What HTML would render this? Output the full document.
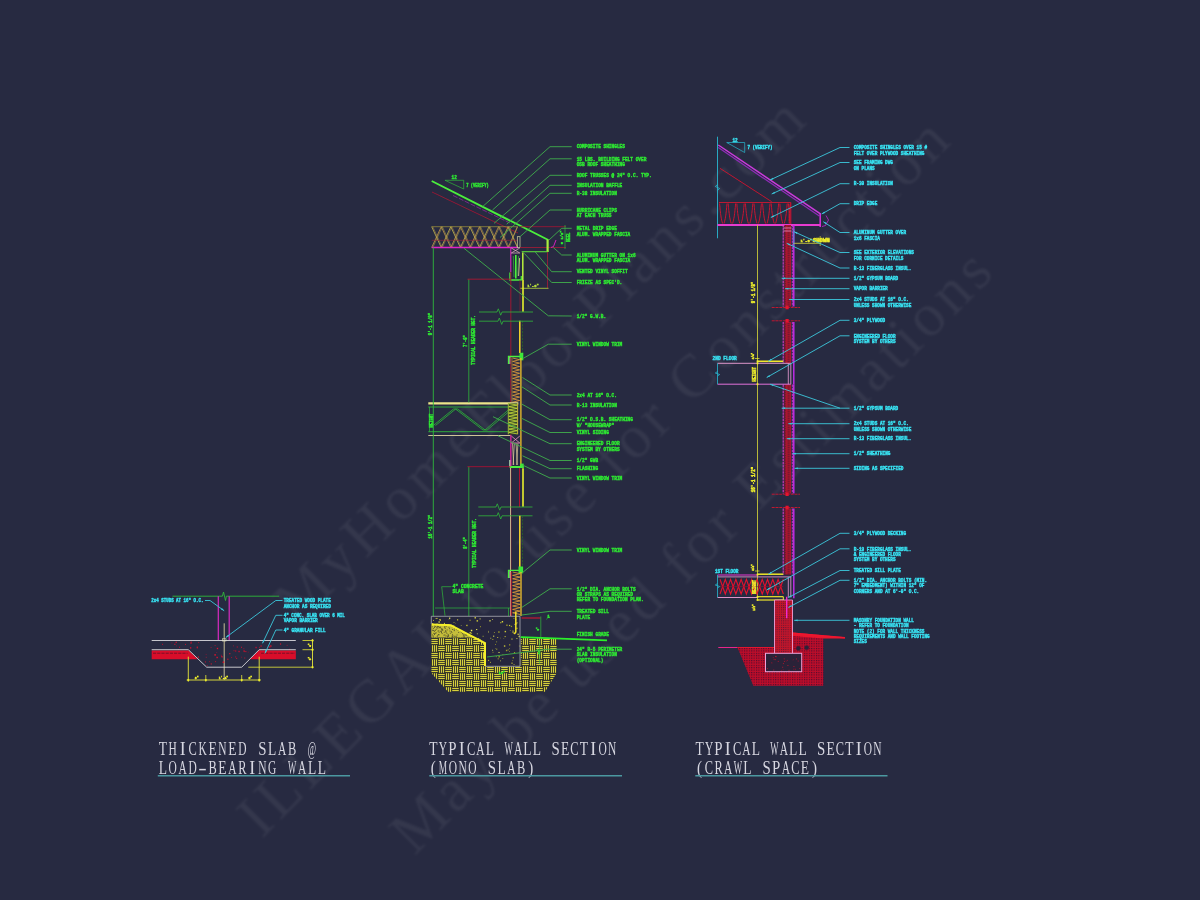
<!DOCTYPE html>
<html><head><meta charset="utf-8"><title>Wall Sections</title>
<style>
html,body{margin:0;padding:0;background:#272a41;}
body{width:1200px;height:900px;overflow:hidden;}
svg{display:block;}
svg text{font-family:"Liberation Mono",monospace;font-weight:bold;}
svg text.t{font-family:"Liberation Mono",monospace;font-weight:normal;}
svg text.ts{font-family:"Liberation Serif",serif;font-weight:normal;}
svg text.wm{font-family:"Liberation Serif",serif;font-weight:normal;}
</style></head><body>
<svg width="1200" height="900" viewBox="0 0 1200 900">
<defs>

<filter id="soft" x="-5%" y="-5%" width="110%" height="110%"><feGaussianBlur stdDeviation="0.45"/></filter>
<filter id="soft2" x="-5%" y="-5%" width="110%" height="110%"><feGaussianBlur stdDeviation="0.3"/></filter>
<filter id="wmsoft" x="-5%" y="-5%" width="110%" height="110%"><feGaussianBlur stdDeviation="1.1"/></filter>
<pattern id="earthY" width="14" height="14" patternUnits="userSpaceOnUse" x="431" y="638">
  <rect width="14" height="14" fill="#2c2d27"/>
  <g stroke="#d6d03c" stroke-width="1.15">
   <line x1="0.2" y1="1.5" x2="6.8" y2="1.5"/><line x1="0.2" y1="3.5" x2="6.8" y2="3.5"/><line x1="0.2" y1="5.5" x2="6.8" y2="5.5"/>
   <line x1="8.5" y1="0.2" x2="8.5" y2="6.8"/><line x1="10.5" y1="0.2" x2="10.5" y2="6.8"/><line x1="12.5" y1="0.2" x2="12.5" y2="6.8"/>
   <line x1="1.5" y1="7.2" x2="1.5" y2="13.8"/><line x1="3.5" y1="7.2" x2="3.5" y2="13.8"/><line x1="5.5" y1="7.2" x2="5.5" y2="13.8"/>
   <line x1="7.2" y1="8.5" x2="13.8" y2="8.5"/><line x1="7.2" y1="10.5" x2="13.8" y2="10.5"/><line x1="7.2" y1="12.5" x2="13.8" y2="12.5"/>
  </g>
</pattern>
<pattern id="earthR" width="2.4" height="2.4" patternUnits="userSpaceOnUse">
  <rect width="2.4" height="2.4" fill="#bd102b"/>
  <rect x="0" y="0" width="1.1" height="1.1" fill="#4a1030"/>
</pattern>
<pattern id="brickR" width="2.2" height="2.2" patternUnits="userSpaceOnUse">
  <rect width="2.2" height="2.2" fill="#c2122c"/>
  <rect x="0" y="0" width="1.0" height="1.0" fill="#5a1432"/>
</pattern>

</defs>
<rect width="1200" height="900" fill="#272a41"/>
<g filter="url(#wmsoft)">
<text class="wm" x="298" y="626" font-size="61" textLength="716.32" lengthAdjust="spacing" fill="#ffffff" fill-opacity="0.06" transform="rotate(-44.6 298 626)">MyHomeFloorPlans.com</text>
<text class="wm" x="262" y="839" font-size="61" textLength="979.78" lengthAdjust="spacing" fill="#ffffff" fill-opacity="0.06" transform="rotate(-45.23 262 839)">ILLEGAL to use for Construction</text>
<text class="wm" x="414.5" y="856.3" font-size="61" textLength="821.52" lengthAdjust="spacing" fill="#ffffff" fill-opacity="0.06" transform="rotate(-45.04 414.5 856.3)">May be used for Estimations</text>
</g>
<g filter="url(#soft)">
<line x1="432" y1="192" x2="518" y2="233" stroke="#a81632" stroke-width="0.8" />
<line x1="453" y1="195.5" x2="512" y2="224" stroke="#8a2a9a" stroke-width="0.8" stroke-dasharray="5 1.5"/>
<line x1="431.7" y1="181" x2="548.3" y2="240" stroke="#4cf03c" stroke-width="1.8" />
<polyline points="445,180.3 463.7,180.3 463.7,189 445,180.3" fill="none" stroke="#2fb83a" stroke-width="0.7" />
<text x="451.6" y="179.36" fill="#2eea32" stroke="#2eea32" stroke-width="0.42" font-size="5.332" textLength="5.2" lengthAdjust="spacingAndGlyphs">12</text>
<text x="466.3" y="186.83" fill="#2eea32" stroke="#2eea32" stroke-width="0.42" font-size="4.644" textLength="22.5" lengthAdjust="spacingAndGlyphs">7 (VERIFY)</text>
<polyline points="431.7,226.7 441.25,247.5 450.8,226.7 460.35,247.5 469.9,226.7 479.45,247.5 489,226.7 498.55,247.5 508.1,226.7 517.5,247.5" fill="none" stroke="#d0c450" stroke-width="0.75" />
<polyline points="431.7,247.5 441.25,226.7 450.8,247.5 460.35,226.7 469.9,247.5 479.45,226.7 489,247.5 498.55,226.7 508.1,247.5 517.5,226.7" fill="none" stroke="#d09c4c" stroke-width="0.75" />
<polyline points="432.8,226.7 442.35,247.5 451.9,226.7 461.45,247.5 471,226.7 480.55,247.5 490.1,226.7 499.65,247.5 509.2,226.7 517.5,247.5" fill="none" stroke="#b08a48" stroke-width="0.5" />
<polyline points="432.8,247.5 442.35,226.7 451.9,247.5 461.45,226.7 471,247.5 480.55,226.7 490.1,247.5 499.65,226.7 509.2,247.5 517.5,226.7" fill="none" stroke="#b0a848" stroke-width="0.5" />
<line x1="431.7" y1="226.7" x2="517.5" y2="226.7" stroke="#b9a93a" stroke-width="0.6" />
<line x1="431.7" y1="240.3" x2="517.5" y2="240.3" stroke="#a0203a" stroke-width="0.6" />
<line x1="431.7" y1="247.5" x2="518" y2="247.5" stroke="#e323c8" stroke-width="1.3" />
<rect x="517.3" y="236.7" width="2.7" height="10.8" fill="none" stroke="#d8d8a0" stroke-width="0.7" />
<line x1="520" y1="226.7" x2="566" y2="226.7" stroke="#a81632" stroke-width="0.8" />
<line x1="520" y1="247.5" x2="566" y2="247.5" stroke="#a81632" stroke-width="0.8" />
<line x1="565" y1="225" x2="565" y2="249" stroke="#2fb83a" stroke-width="0.7" />
<text x="554.7" y="238.72" fill="#2eea32" stroke="#2eea32" stroke-width="0.42" font-size="4.3" textLength="13.8" lengthAdjust="spacingAndGlyphs" transform="rotate(-90 561.6 237.3)">8 1/2&quot;</text>
<text x="563.8" y="238.83" fill="#2eea32" stroke="#2eea32" stroke-width="0.42" font-size="4.644" textLength="9.6" lengthAdjust="spacingAndGlyphs" transform="rotate(-90 568.6 237.3)">HEEL</text>
<line x1="547.6" y1="239.6" x2="547.6" y2="252" stroke="#a8f03c" stroke-width="2.2" />
<line x1="521.7" y1="251.7" x2="547.6" y2="251.7" stroke="#5ad83a" stroke-width="1.1" />
<polyline points="556,240 553.5,246.5 551,247.5" fill="none" stroke="#e323c8" stroke-width="0.9" />
<line x1="547.5" y1="252" x2="547.5" y2="288.3" stroke="#a81632" stroke-width="0.8" />
<line x1="520" y1="288.3" x2="548.5" y2="288.3" stroke="#b8d83a" stroke-width="0.8" />
<text x="527.25" y="287.42" fill="#b8e03a" stroke="#b8e03a" stroke-width="0.42" font-size="4.3" textLength="11.5" lengthAdjust="spacingAndGlyphs">1'-0&quot;</text>
<line x1="510.8" y1="247.5" x2="510.8" y2="272" stroke="#e323c8" stroke-width="1.0" />
<polyline points="511.3,248 519.8,253 511.3,253 519.8,248" fill="none" stroke="#e8b0c8" stroke-width="0.7" />
<line x1="515.8" y1="255" x2="515.8" y2="278.5" stroke="#4cf03c" stroke-width="1.6" />
<line x1="513.3" y1="256" x2="514" y2="277" stroke="#2fb83a" stroke-width="0.7" />
<line x1="518.6" y1="256" x2="517.8" y2="276" stroke="#2fb83a" stroke-width="0.7" />
<line x1="519.6" y1="258" x2="518.6" y2="276" stroke="#e8d0a0" stroke-width="0.8" />
<polyline points="510,272.5 510,280 521.7,280" fill="none" stroke="#4cf03c" stroke-width="1.4" />
<line x1="521.3" y1="276" x2="521.3" y2="280" stroke="#4cf03c" stroke-width="1.2" />
<line x1="522.8" y1="252.5" x2="522.8" y2="280" stroke="#b8f03c" stroke-width="1.5" />
<line x1="510.8" y1="272" x2="510.8" y2="616" stroke="#a81632" stroke-width="0.9" />
<line x1="520" y1="280" x2="520" y2="312" stroke="#8a1a30" stroke-width="0.7" />
<line x1="523" y1="280" x2="523" y2="311.7" stroke="#e8f02a" stroke-width="1.6" />
<line x1="519.8" y1="320.8" x2="519.8" y2="353" stroke="#f0d02a" stroke-width="1.6" />
<line x1="522.6" y1="320.8" x2="522.6" y2="356" stroke="#2a6a2a" stroke-width="0.8" stroke-dasharray="2.2 1.2"/>
<polyline points="479,312 497,312 498.3,308.8 500.7,315.2 502,312 533,312" fill="none" stroke="#2fb83a" stroke-width="0.8" />
<polyline points="479,321.2 498,321.2 499.3,318 501.7,324.4 503,321.2 533,321.2" fill="none" stroke="#2fb83a" stroke-width="0.8" />
<polyline points="508.5,364 508.5,356.5 521,356.5" fill="none" stroke="#4cf03c" stroke-width="1.3" />
<rect x="519.5" y="352.8" width="3.8" height="7.5" fill="#3ce83a" stroke="none" stroke-width="0.8" />
<line x1="509.8" y1="357" x2="509.8" y2="364" stroke="#e8e8d0" stroke-width="0.7" />
<polyline points="512.6,358 519.6,359.7 512.6,361.4 519.6,363.1 512.6,364.8 519.6,366.5 512.6,368.2 519.6,369.9 512.6,371.6 519.6,373.3 512.6,375 519.6,376.7 512.6,378.4 519.6,380.1 512.6,381.8 519.6,383.5 512.6,385.2 519.6,386.9 512.6,388.6 519.6,390.3 512.6,392 519.6,393.7 512.6,395.4 519.6,397.1 512.6,398.8 519.6,400.5 512.6,402.2" fill="none" stroke="#e9a13a" stroke-width="0.8" />
<line x1="520.9" y1="358" x2="520.9" y2="466" stroke="#f0c02a" stroke-width="1.3" />
<line x1="512" y1="358" x2="512" y2="402" stroke="#c8a03a" stroke-width="0.6" />
<line x1="428.3" y1="403.3" x2="518.3" y2="403.3" stroke="#ece48a" stroke-width="2.2" />
<line x1="428.3" y1="407" x2="508.3" y2="407" stroke="#2fb83a" stroke-width="0.9" />
<line x1="428.3" y1="431.7" x2="508.3" y2="431.7" stroke="#2fb83a" stroke-width="0.9" />
<line x1="428.3" y1="435.5" x2="510.5" y2="435.5" stroke="#e0d8a0" stroke-width="0.9" />
<line x1="429.5" y1="407" x2="429.5" y2="431.7" stroke="#2fb83a" stroke-width="0.7" />
<polyline points="433.3,425.5 453.5,409 455.5,409 483,430 485,430 508.3,410" fill="none" stroke="#2fb83a" stroke-width="0.8" />
<polyline points="435.5,425.5 455.7,409 457.7,409 485.2,430 487.2,430 508.3,412.2" fill="none" stroke="#2fb83a" stroke-width="0.8" />
<text x="424.5" y="421.98" fill="#2eea32" stroke="#2eea32" stroke-width="0.42" font-size="4.472" textLength="13.8" lengthAdjust="spacingAndGlyphs" transform="rotate(-90 431.4 420.5)">HEIGHT</text>
<rect x="508.3" y="403.3" width="9.2" height="31" fill="#3a4a2a" stroke="none" stroke-width="0.8" />
<polyline points="508.8,403.5 517.2,405.1 508.8,406.7 517.2,408.3 508.8,409.9 517.2,411.5 508.8,413.1 517.2,414.7 508.8,416.3 517.2,417.9 508.8,419.5 517.2,421.1 508.8,422.7 517.2,424.3 508.8,425.9 517.2,427.5 508.8,429.1 517.2,430.7 508.8,432.3 517.2,433.9" fill="none" stroke="#c8e03a" stroke-width="0.8" />
<line x1="508.3" y1="403.3" x2="508.3" y2="434.3" stroke="#b8d83a" stroke-width="0.8" />
<line x1="517.6" y1="403.3" x2="517.6" y2="434.3" stroke="#d8c03a" stroke-width="0.9" />
<polyline points="511.3,436 519.8,443 511.3,443 519.8,436" fill="none" stroke="#f090c0" stroke-width="0.8" />
<line x1="510.9" y1="435.5" x2="510.9" y2="466" stroke="#e323c8" stroke-width="1.0" />
<line x1="512.5" y1="443.5" x2="513.7" y2="465" stroke="#e8d0a0" stroke-width="0.7" />
<line x1="514.3" y1="443.5" x2="513.1" y2="465" stroke="#e8d0a0" stroke-width="0.7" />
<line x1="516.1" y1="443.5" x2="517.3" y2="465" stroke="#e8d0a0" stroke-width="0.7" />
<line x1="517.9" y1="443.5" x2="516.7" y2="465" stroke="#e8d0a0" stroke-width="0.7" />
<line x1="509.5" y1="467" x2="523.5" y2="467" stroke="#4cf03c" stroke-width="2.0" />
<line x1="509.8" y1="460" x2="509.8" y2="467" stroke="#c8f0c0" stroke-width="1.0" />
<rect x="520.3" y="463.6" width="3.4" height="4.4" fill="#3ce83a" stroke="none" stroke-width="0.8" />
<line x1="510.5" y1="468" x2="510.5" y2="616" stroke="#d8d0a0" stroke-width="0.8" />
<line x1="519.5" y1="468" x2="519.5" y2="507" stroke="#c0122e" stroke-width="0.9" />
<line x1="523" y1="468.3" x2="523" y2="506.7" stroke="#e8f02a" stroke-width="1.6" />
<polyline points="478.3,507 496,507 497.3,503.8 499.7,510.2 501,507 532.5,507" fill="none" stroke="#2fb83a" stroke-width="0.8" />
<polyline points="478.3,515.8 497,515.8 498.3,512.6 500.7,519 502,515.8 532.5,515.8" fill="none" stroke="#2fb83a" stroke-width="0.8" />
<line x1="519.8" y1="515.8" x2="519.8" y2="568.5" stroke="#f0d02a" stroke-width="1.6" />
<line x1="522.6" y1="515.8" x2="522.6" y2="570" stroke="#2a6a2a" stroke-width="0.8" stroke-dasharray="2.2 1.2"/>
<polyline points="508.5,578 508.5,570.3 521,570.3" fill="none" stroke="#4cf03c" stroke-width="1.3" />
<rect x="518.5" y="566.5" width="4.6" height="6.8" fill="#3ce83a" stroke="none" stroke-width="0.8" />
<line x1="509.8" y1="571" x2="509.8" y2="578" stroke="#e8e8d0" stroke-width="0.7" />
<polyline points="512.6,572 520.2,573.7 512.6,575.4 520.2,577.1 512.6,578.8 520.2,580.5 512.6,582.2 520.2,583.9 512.6,585.6 520.2,587.3 512.6,589 520.2,590.7 512.6,592.4 520.2,594.1 512.6,595.8 520.2,597.5 512.6,599.2 520.2,600.9 512.6,602.6 520.2,604.3 512.6,606 520.2,607.7 512.6,609.4 520.2,611.1 512.6,612.8 520.2,614.5" fill="none" stroke="#e9a13a" stroke-width="0.8" />
<line x1="521" y1="572" x2="521" y2="616" stroke="#f0c02a" stroke-width="1.3" />
<line x1="511.2" y1="572" x2="511.2" y2="616" stroke="#c0122e" stroke-width="0.9" />
<line x1="433.3" y1="247.5" x2="433.3" y2="616.3" stroke="#2fb83a" stroke-width="0.9" />
<line x1="468.8" y1="279.2" x2="468.8" y2="402.5" stroke="#2fb83a" stroke-width="0.8" />
<line x1="468.8" y1="466.7" x2="468.8" y2="616.3" stroke="#2fb83a" stroke-width="0.8" />
<line x1="467.5" y1="279.2" x2="510.5" y2="279.2" stroke="#a81632" stroke-width="0.9" />
<line x1="467.5" y1="466.7" x2="510.5" y2="466.7" stroke="#a81632" stroke-width="0.9" />
<line x1="435" y1="608" x2="510" y2="608" stroke="#2fb83a" stroke-width="0.7" />
<line x1="508.5" y1="608" x2="508.5" y2="616" stroke="#2fb83a" stroke-width="0.7" />
<text x="419.35" y="325.53" fill="#2eea32" stroke="#2eea32" stroke-width="0.42" font-size="4.644" textLength="22.5" lengthAdjust="spacingAndGlyphs" transform="rotate(-90 430.6 324)">9'-1 1/8&quot;</text>
<text x="459" y="342.53" fill="#2eea32" stroke="#2eea32" stroke-width="0.42" font-size="4.644" textLength="12" lengthAdjust="spacingAndGlyphs" transform="rotate(-90 465 341)">7'-0&quot;</text>
<text x="448.71" y="341.59" fill="#2eea32" stroke="#2eea32" stroke-width="0.42" font-size="4.816" textLength="49.78" lengthAdjust="spacingAndGlyphs" transform="rotate(-90 473.6 340)">TYPICAL HEADER HGT.</text>
<text x="418.3" y="528.03" fill="#2eea32" stroke="#2eea32" stroke-width="0.42" font-size="4.644" textLength="24" lengthAdjust="spacingAndGlyphs" transform="rotate(-90 430.3 526.5)">16'-1 1/2&quot;</text>
<text x="460.05" y="544.53" fill="#2eea32" stroke="#2eea32" stroke-width="0.42" font-size="4.644" textLength="11.5" lengthAdjust="spacingAndGlyphs" transform="rotate(-90 465.8 543)">8'-4&quot;</text>
<text x="449.11" y="544.59" fill="#2eea32" stroke="#2eea32" stroke-width="0.42" font-size="4.816" textLength="49.78" lengthAdjust="spacingAndGlyphs" transform="rotate(-90 474 543)">TYPICAL HEADER HGT.</text>
</g>
<polygon points="431.3,637.5 431.3,673 448,691.7 545,691.7 556.7,673 556.7,639 520.8,637.3 520.8,666.3 485,666.3 485,643.3 472,637.5" fill="url(#earthY)" stroke="none" stroke-width="0.8" />
<g filter="url(#soft)">
<polygon points="431.3,624 449,624 474,637.5 431.3,637.5" fill="#c4bd3a" stroke="none" stroke-width="0.8" />
<rect x="444.11" y="626.39" width="0.9" height="0.9" fill="#4a4a2c" stroke="none" stroke-width="0.8" />
<rect x="452.16" y="629.07" width="0.9" height="0.9" fill="#4a4a2c" stroke="none" stroke-width="0.8" />
<rect x="434" y="630.84" width="0.9" height="0.9" fill="#4a4a2c" stroke="none" stroke-width="0.8" />
<rect x="433.22" y="629.92" width="0.9" height="0.9" fill="#4a4a2c" stroke="none" stroke-width="0.8" />
<rect x="434.45" y="625.63" width="0.9" height="0.9" fill="#4a4a2c" stroke="none" stroke-width="0.8" />
<rect x="447.93" y="634.84" width="0.9" height="0.9" fill="#4a4a2c" stroke="none" stroke-width="0.8" />
<rect x="436.5" y="627.29" width="0.9" height="0.9" fill="#4a4a2c" stroke="none" stroke-width="0.8" />
<rect x="455.64" y="636.35" width="0.9" height="0.9" fill="#4a4a2c" stroke="none" stroke-width="0.8" />
<rect x="453.73" y="629.46" width="0.9" height="0.9" fill="#4a4a2c" stroke="none" stroke-width="0.8" />
<rect x="437.28" y="625.97" width="0.9" height="0.9" fill="#4a4a2c" stroke="none" stroke-width="0.8" />
<rect x="443.52" y="634.7" width="0.9" height="0.9" fill="#4a4a2c" stroke="none" stroke-width="0.8" />
<rect x="438.67" y="631.77" width="0.9" height="0.9" fill="#4a4a2c" stroke="none" stroke-width="0.8" />
<rect x="456.08" y="629.15" width="0.9" height="0.9" fill="#4a4a2c" stroke="none" stroke-width="0.8" />
<rect x="434.06" y="627.07" width="0.9" height="0.9" fill="#4a4a2c" stroke="none" stroke-width="0.8" />
<rect x="457.66" y="629.84" width="0.9" height="0.9" fill="#4a4a2c" stroke="none" stroke-width="0.8" />
<rect x="443.74" y="631.82" width="0.9" height="0.9" fill="#4a4a2c" stroke="none" stroke-width="0.8" />
<rect x="449.02" y="628.25" width="0.9" height="0.9" fill="#4a4a2c" stroke="none" stroke-width="0.8" />
<rect x="461.99" y="633.24" width="0.9" height="0.9" fill="#4a4a2c" stroke="none" stroke-width="0.8" />
<rect x="441.08" y="631.68" width="0.9" height="0.9" fill="#4a4a2c" stroke="none" stroke-width="0.8" />
<rect x="451.76" y="635.44" width="0.9" height="0.9" fill="#4a4a2c" stroke="none" stroke-width="0.8" />
<rect x="447.69" y="633.96" width="0.9" height="0.9" fill="#4a4a2c" stroke="none" stroke-width="0.8" />
<rect x="437.58" y="630.61" width="0.9" height="0.9" fill="#4a4a2c" stroke="none" stroke-width="0.8" />
<rect x="433.29" y="632.85" width="0.9" height="0.9" fill="#4a4a2c" stroke="none" stroke-width="0.8" />
<rect x="460.85" y="631.66" width="0.9" height="0.9" fill="#4a4a2c" stroke="none" stroke-width="0.8" />
<rect x="458.22" y="631.93" width="0.9" height="0.9" fill="#4a4a2c" stroke="none" stroke-width="0.8" />
<rect x="453.84" y="630.2" width="0.9" height="0.9" fill="#4a4a2c" stroke="none" stroke-width="0.8" />
<rect x="463.72" y="636.31" width="0.9" height="0.9" fill="#4a4a2c" stroke="none" stroke-width="0.8" />
<rect x="449.82" y="632.8" width="0.9" height="0.9" fill="#4a4a2c" stroke="none" stroke-width="0.8" />
<rect x="434.11" y="633.27" width="0.9" height="0.9" fill="#4a4a2c" stroke="none" stroke-width="0.8" />
<rect x="456.39" y="636.91" width="0.9" height="0.9" fill="#4a4a2c" stroke="none" stroke-width="0.8" />
<rect x="446.46" y="632.86" width="0.9" height="0.9" fill="#4a4a2c" stroke="none" stroke-width="0.8" />
<rect x="432.66" y="630.27" width="0.9" height="0.9" fill="#4a4a2c" stroke="none" stroke-width="0.8" />
<rect x="438.19" y="625.96" width="0.9" height="0.9" fill="#4a4a2c" stroke="none" stroke-width="0.8" />
<rect x="434.04" y="634.1" width="0.9" height="0.9" fill="#4a4a2c" stroke="none" stroke-width="0.8" />
<rect x="436.71" y="627.6" width="0.9" height="0.9" fill="#4a4a2c" stroke="none" stroke-width="0.8" />
<rect x="446.66" y="635.39" width="0.9" height="0.9" fill="#4a4a2c" stroke="none" stroke-width="0.8" />
<rect x="434.86" y="630.11" width="0.9" height="0.9" fill="#4a4a2c" stroke="none" stroke-width="0.8" />
<rect x="452.68" y="635.54" width="0.9" height="0.9" fill="#4a4a2c" stroke="none" stroke-width="0.8" />
<rect x="462.93" y="635.3" width="0.9" height="0.9" fill="#4a4a2c" stroke="none" stroke-width="0.8" />
<rect x="442.38" y="629.69" width="0.9" height="0.9" fill="#4a4a2c" stroke="none" stroke-width="0.8" />
<rect x="445.43" y="635.55" width="0.9" height="0.9" fill="#4a4a2c" stroke="none" stroke-width="0.8" />
<rect x="438.5" y="627.4" width="0.9" height="0.9" fill="#4a4a2c" stroke="none" stroke-width="0.8" />
<rect x="440.67" y="630.56" width="0.9" height="0.9" fill="#4a4a2c" stroke="none" stroke-width="0.8" />
<rect x="454.19" y="627.78" width="0.9" height="0.9" fill="#4a4a2c" stroke="none" stroke-width="0.8" />
<rect x="431.96" y="629.74" width="0.9" height="0.9" fill="#4a4a2c" stroke="none" stroke-width="0.8" />
<rect x="445.83" y="631.58" width="0.9" height="0.9" fill="#4a4a2c" stroke="none" stroke-width="0.8" />
<rect x="451.39" y="632.22" width="0.9" height="0.9" fill="#4a4a2c" stroke="none" stroke-width="0.8" />
<rect x="465.98" y="634.25" width="0.9" height="0.9" fill="#4a4a2c" stroke="none" stroke-width="0.8" />
<rect x="465.03" y="634.47" width="0.9" height="0.9" fill="#4a4a2c" stroke="none" stroke-width="0.8" />
<rect x="446.71" y="629.49" width="0.9" height="0.9" fill="#4a4a2c" stroke="none" stroke-width="0.8" />
<rect x="435.73" y="632.43" width="0.9" height="0.9" fill="#4a4a2c" stroke="none" stroke-width="0.8" />
<rect x="434.17" y="625.34" width="0.9" height="0.9" fill="#4a4a2c" stroke="none" stroke-width="0.8" />
<rect x="439.73" y="626.53" width="0.9" height="0.9" fill="#4a4a2c" stroke="none" stroke-width="0.8" />
<rect x="444.72" y="625.16" width="0.9" height="0.9" fill="#4a4a2c" stroke="none" stroke-width="0.8" />
<rect x="431.81" y="626.39" width="0.9" height="0.9" fill="#4a4a2c" stroke="none" stroke-width="0.8" />
<rect x="435.66" y="629.05" width="0.9" height="0.9" fill="#4a4a2c" stroke="none" stroke-width="0.8" />
<rect x="432.77" y="635.43" width="0.9" height="0.9" fill="#4a4a2c" stroke="none" stroke-width="0.8" />
<rect x="441.39" y="628.84" width="0.9" height="0.9" fill="#4a4a2c" stroke="none" stroke-width="0.8" />
<rect x="445.64" y="626.04" width="0.9" height="0.9" fill="#4a4a2c" stroke="none" stroke-width="0.8" />
<rect x="464.06" y="636.91" width="0.9" height="0.9" fill="#4a4a2c" stroke="none" stroke-width="0.8" />
<rect x="449.51" y="630.55" width="0.9" height="0.9" fill="#4a4a2c" stroke="none" stroke-width="0.8" />
<rect x="435.06" y="625.78" width="0.9" height="0.9" fill="#4a4a2c" stroke="none" stroke-width="0.8" />
<rect x="444.82" y="627.81" width="0.9" height="0.9" fill="#4a4a2c" stroke="none" stroke-width="0.8" />
<rect x="432.68" y="636.39" width="0.9" height="0.9" fill="#4a4a2c" stroke="none" stroke-width="0.8" />
<rect x="451.87" y="626.33" width="0.9" height="0.9" fill="#4a4a2c" stroke="none" stroke-width="0.8" />
<rect x="451.87" y="636.73" width="0.9" height="0.9" fill="#4a4a2c" stroke="none" stroke-width="0.8" />
<rect x="464.61" y="633.2" width="0.9" height="0.9" fill="#4a4a2c" stroke="none" stroke-width="0.8" />
<rect x="441.72" y="629.08" width="0.9" height="0.9" fill="#4a4a2c" stroke="none" stroke-width="0.8" />
<rect x="438.15" y="634.15" width="0.9" height="0.9" fill="#4a4a2c" stroke="none" stroke-width="0.8" />
<rect x="452.04" y="634.24" width="0.9" height="0.9" fill="#4a4a2c" stroke="none" stroke-width="0.8" />
<rect x="444.33" y="627.29" width="0.9" height="0.9" fill="#4a4a2c" stroke="none" stroke-width="0.8" />
<rect x="462.64" y="636.81" width="0.9" height="0.9" fill="#4a4a2c" stroke="none" stroke-width="0.8" />
<rect x="464.2" y="634.58" width="0.9" height="0.9" fill="#4a4a2c" stroke="none" stroke-width="0.8" />
<rect x="462.9" y="633.75" width="0.9" height="0.9" fill="#4a4a2c" stroke="none" stroke-width="0.8" />
<rect x="440.42" y="630.97" width="0.9" height="0.9" fill="#4a4a2c" stroke="none" stroke-width="0.8" />
<rect x="445.31" y="624.86" width="0.9" height="0.9" fill="#4a4a2c" stroke="none" stroke-width="0.8" />
<rect x="432.86" y="627.99" width="0.9" height="0.9" fill="#4a4a2c" stroke="none" stroke-width="0.8" />
<rect x="441.65" y="633.16" width="0.9" height="0.9" fill="#4a4a2c" stroke="none" stroke-width="0.8" />
<rect x="467.41" y="636.85" width="0.9" height="0.9" fill="#4a4a2c" stroke="none" stroke-width="0.8" />
<rect x="440.18" y="627.34" width="0.9" height="0.9" fill="#4a4a2c" stroke="none" stroke-width="0.8" />
<rect x="439.27" y="627.05" width="0.9" height="0.9" fill="#4a4a2c" stroke="none" stroke-width="0.8" />
<rect x="455.51" y="635.75" width="0.9" height="0.9" fill="#4a4a2c" stroke="none" stroke-width="0.8" />
<rect x="456.61" y="634.5" width="0.9" height="0.9" fill="#4a4a2c" stroke="none" stroke-width="0.8" />
<rect x="435.02" y="632.76" width="0.9" height="0.9" fill="#4a4a2c" stroke="none" stroke-width="0.8" />
<rect x="466.37" y="634.28" width="0.9" height="0.9" fill="#4a4a2c" stroke="none" stroke-width="0.8" />
<rect x="460.31" y="630.48" width="0.9" height="0.9" fill="#4a4a2c" stroke="none" stroke-width="0.8" />
<rect x="438.58" y="634.36" width="0.9" height="0.9" fill="#4a4a2c" stroke="none" stroke-width="0.8" />
<rect x="444.44" y="634.51" width="0.9" height="0.9" fill="#4a4a2c" stroke="none" stroke-width="0.8" />
<rect x="447.05" y="636.33" width="0.9" height="0.9" fill="#4a4a2c" stroke="none" stroke-width="0.8" />
<rect x="436.63" y="626.39" width="0.9" height="0.9" fill="#4a4a2c" stroke="none" stroke-width="0.8" />
<rect x="466.18" y="634.58" width="0.9" height="0.9" fill="#4a4a2c" stroke="none" stroke-width="0.8" />
<rect x="437.35" y="634.83" width="0.9" height="0.9" fill="#4a4a2c" stroke="none" stroke-width="0.8" />
<rect x="445.12" y="631.36" width="0.9" height="0.9" fill="#4a4a2c" stroke="none" stroke-width="0.8" />
<rect x="436.78" y="624.68" width="0.9" height="0.9" fill="#4a4a2c" stroke="none" stroke-width="0.8" />
<rect x="451.81" y="636.17" width="0.9" height="0.9" fill="#4a4a2c" stroke="none" stroke-width="0.8" />
<rect x="448.28" y="635.4" width="0.9" height="0.9" fill="#4a4a2c" stroke="none" stroke-width="0.8" />
<rect x="441.37" y="628.16" width="0.9" height="0.9" fill="#4a4a2c" stroke="none" stroke-width="0.8" />
<rect x="440.94" y="631.83" width="0.9" height="0.9" fill="#4a4a2c" stroke="none" stroke-width="0.8" />
<rect x="441.66" y="629.74" width="0.9" height="0.9" fill="#4a4a2c" stroke="none" stroke-width="0.8" />
<rect x="436.78" y="635.88" width="0.9" height="0.9" fill="#4a4a2c" stroke="none" stroke-width="0.8" />
<rect x="445.24" y="630.23" width="0.9" height="0.9" fill="#4a4a2c" stroke="none" stroke-width="0.8" />
<rect x="453.97" y="635.8" width="0.9" height="0.9" fill="#4a4a2c" stroke="none" stroke-width="0.8" />
<rect x="447.78" y="635.97" width="0.9" height="0.9" fill="#4a4a2c" stroke="none" stroke-width="0.8" />
<rect x="450.86" y="631.15" width="0.9" height="0.9" fill="#4a4a2c" stroke="none" stroke-width="0.8" />
<rect x="448.52" y="626.79" width="0.9" height="0.9" fill="#4a4a2c" stroke="none" stroke-width="0.8" />
<rect x="431.95" y="634.49" width="0.9" height="0.9" fill="#4a4a2c" stroke="none" stroke-width="0.8" />
<rect x="438.35" y="630.42" width="0.9" height="0.9" fill="#4a4a2c" stroke="none" stroke-width="0.8" />
<polygon points="431.3,616.3 520,616.3 520,666.3 485,666.3 485,643 450.8,625 449,624 431.3,624" fill="#25273c" stroke="none" stroke-width="0.8" />
<rect x="495.09" y="643.99" width="0.89" height="0.89" fill="#9a962a" stroke="none" stroke-width="0.8" />
<rect x="500.23" y="622.15" width="1.1" height="1.1" fill="#c8c23a" stroke="none" stroke-width="0.8" />
<rect x="448.64" y="619.05" width="0.69" height="0.69" fill="#9a962a" stroke="none" stroke-width="0.8" />
<rect x="511.39" y="638.5" width="1.15" height="1.15" fill="#c8c23a" stroke="none" stroke-width="0.8" />
<rect x="492.27" y="638.94" width="1.08" height="1.08" fill="#9a962a" stroke="none" stroke-width="0.8" />
<rect x="476.17" y="629.01" width="1.07" height="1.07" fill="#f4f060" stroke="none" stroke-width="0.8" />
<rect x="512.28" y="660.3" width="0.78" height="0.78" fill="#9a962a" stroke="none" stroke-width="0.8" />
<rect x="443.93" y="622.9" width="1" height="1" fill="#e8e03a" stroke="none" stroke-width="0.8" />
<rect x="490.39" y="637.77" width="0.79" height="0.79" fill="#f4f060" stroke="none" stroke-width="0.8" />
<rect x="500.2" y="660.51" width="0.74" height="0.74" fill="#f4f060" stroke="none" stroke-width="0.8" />
<rect x="516.18" y="627.65" width="1.46" height="1.46" fill="#9a962a" stroke="none" stroke-width="0.8" />
<rect x="508.99" y="624.9" width="1.2" height="1.2" fill="#c8c23a" stroke="none" stroke-width="0.8" />
<rect x="476.86" y="633.45" width="0.78" height="0.78" fill="#f4f060" stroke="none" stroke-width="0.8" />
<rect x="493.17" y="635.64" width="1.07" height="1.07" fill="#f4f060" stroke="none" stroke-width="0.8" />
<rect x="476.57" y="620.12" width="1.49" height="1.49" fill="#c8c23a" stroke="none" stroke-width="0.8" />
<rect x="516.54" y="622.08" width="0.84" height="0.84" fill="#e8e03a" stroke="none" stroke-width="0.8" />
<rect x="510.81" y="625.81" width="1.28" height="1.28" fill="#9a962a" stroke="none" stroke-width="0.8" />
<rect x="505.91" y="649.78" width="1.45" height="1.45" fill="#9a962a" stroke="none" stroke-width="0.8" />
<rect x="439.78" y="619.79" width="1.22" height="1.22" fill="#9a962a" stroke="none" stroke-width="0.8" />
<rect x="509.89" y="630.04" width="0.62" height="0.62" fill="#e8e03a" stroke="none" stroke-width="0.8" />
<rect x="501.74" y="621.06" width="1.37" height="1.37" fill="#e8e03a" stroke="none" stroke-width="0.8" />
<rect x="455.01" y="622.9" width="0.61" height="0.61" fill="#9a962a" stroke="none" stroke-width="0.8" />
<rect x="512.62" y="629.99" width="0.72" height="0.72" fill="#c8c23a" stroke="none" stroke-width="0.8" />
<rect x="513.62" y="664.01" width="0.84" height="0.84" fill="#c8c23a" stroke="none" stroke-width="0.8" />
<rect x="479.94" y="626.19" width="1.03" height="1.03" fill="#9a962a" stroke="none" stroke-width="0.8" />
<rect x="504.61" y="636.06" width="1.06" height="1.06" fill="#c8c23a" stroke="none" stroke-width="0.8" />
<rect x="517.47" y="633.62" width="1.35" height="1.35" fill="#c8c23a" stroke="none" stroke-width="0.8" />
<rect x="436.73" y="623.3" width="0.66" height="0.66" fill="#f4f060" stroke="none" stroke-width="0.8" />
<rect x="469.47" y="619.69" width="1.2" height="1.2" fill="#9a962a" stroke="none" stroke-width="0.8" />
<rect x="507.74" y="649.52" width="0.85" height="0.85" fill="#c8c23a" stroke="none" stroke-width="0.8" />
<rect x="492.26" y="619.19" width="0.77" height="0.77" fill="#f4f060" stroke="none" stroke-width="0.8" />
<rect x="470.79" y="629.77" width="1.47" height="1.47" fill="#f4f060" stroke="none" stroke-width="0.8" />
<rect x="435.63" y="618.09" width="0.87" height="0.87" fill="#c8c23a" stroke="none" stroke-width="0.8" />
<rect x="506.23" y="624.53" width="1.4" height="1.4" fill="#9a962a" stroke="none" stroke-width="0.8" />
<rect x="498.5" y="651.95" width="1.04" height="1.04" fill="#f4f060" stroke="none" stroke-width="0.8" />
<rect x="495" y="648.2" width="0.64" height="0.64" fill="#9a962a" stroke="none" stroke-width="0.8" />
<rect x="495.85" y="656.39" width="0.73" height="0.73" fill="#e8e03a" stroke="none" stroke-width="0.8" />
<rect x="503.9" y="645.33" width="1.4" height="1.4" fill="#c8c23a" stroke="none" stroke-width="0.8" />
<rect x="439.4" y="619.03" width="1.17" height="1.17" fill="#e8e03a" stroke="none" stroke-width="0.8" />
<rect x="436.42" y="617.91" width="1.08" height="1.08" fill="#c8c23a" stroke="none" stroke-width="0.8" />
<rect x="474.57" y="617.16" width="1.32" height="1.32" fill="#e8e03a" stroke="none" stroke-width="0.8" />
<rect x="489.36" y="620.2" width="1.26" height="1.26" fill="#f4f060" stroke="none" stroke-width="0.8" />
<rect x="502.4" y="658.04" width="0.81" height="0.81" fill="#c8c23a" stroke="none" stroke-width="0.8" />
<rect x="457" y="619.27" width="1.17" height="1.17" fill="#c8c23a" stroke="none" stroke-width="0.8" />
<rect x="433.08" y="619.94" width="0.84" height="0.84" fill="#e8e03a" stroke="none" stroke-width="0.8" />
<rect x="492.22" y="649.77" width="0.86" height="0.86" fill="#f4f060" stroke="none" stroke-width="0.8" />
<rect x="513.45" y="617.85" width="1.01" height="1.01" fill="#9a962a" stroke="none" stroke-width="0.8" />
<rect x="518.48" y="635.76" width="1.42" height="1.42" fill="#c8c23a" stroke="none" stroke-width="0.8" />
<rect x="438.49" y="621.38" width="1.27" height="1.27" fill="#f4f060" stroke="none" stroke-width="0.8" />
<rect x="514.89" y="623.43" width="1.34" height="1.34" fill="#f4f060" stroke="none" stroke-width="0.8" />
<rect x="509.16" y="651.11" width="0.81" height="0.81" fill="#9a962a" stroke="none" stroke-width="0.8" />
<rect x="466.29" y="624.71" width="1.45" height="1.45" fill="#9a962a" stroke="none" stroke-width="0.8" />
<rect x="449.03" y="617.57" width="1.27" height="1.27" fill="#f4f060" stroke="none" stroke-width="0.8" />
<rect x="518.89" y="645.58" width="0.92" height="0.92" fill="#9a962a" stroke="none" stroke-width="0.8" />
<rect x="497.74" y="658.43" width="0.85" height="0.85" fill="#e8e03a" stroke="none" stroke-width="0.8" />
<rect x="504.62" y="630.85" width="1.44" height="1.44" fill="#c8c23a" stroke="none" stroke-width="0.8" />
<rect x="516.48" y="638.16" width="0.88" height="0.88" fill="#f4f060" stroke="none" stroke-width="0.8" />
<rect x="500.31" y="637.75" width="0.63" height="0.63" fill="#9a962a" stroke="none" stroke-width="0.8" />
<rect x="511.47" y="662.62" width="1.09" height="1.09" fill="#e8e03a" stroke="none" stroke-width="0.8" />
<rect x="488.07" y="630.88" width="0.64" height="0.64" fill="#c8c23a" stroke="none" stroke-width="0.8" />
<rect x="496.27" y="648.66" width="0.97" height="0.97" fill="#c8c23a" stroke="none" stroke-width="0.8" />
<rect x="466.31" y="625.12" width="0.75" height="0.75" fill="#c8c23a" stroke="none" stroke-width="0.8" />
<rect x="479.88" y="638.97" width="0.9" height="0.9" fill="#9a962a" stroke="none" stroke-width="0.8" />
<rect x="453.24" y="625.47" width="1.1" height="1.1" fill="#f4f060" stroke="none" stroke-width="0.8" />
<rect x="497.22" y="637.02" width="0.97" height="0.97" fill="#c8c23a" stroke="none" stroke-width="0.8" />
<rect x="516.19" y="623.1" width="1.05" height="1.05" fill="#c8c23a" stroke="none" stroke-width="0.8" />
<rect x="469.57" y="632.13" width="1.33" height="1.33" fill="#e8e03a" stroke="none" stroke-width="0.8" />
<rect x="498.44" y="656.01" width="1.47" height="1.47" fill="#9a962a" stroke="none" stroke-width="0.8" />
<rect x="512.63" y="657.04" width="1.37" height="1.37" fill="#9a962a" stroke="none" stroke-width="0.8" />
<rect x="453.62" y="622.29" width="0.74" height="0.74" fill="#e8e03a" stroke="none" stroke-width="0.8" />
<rect x="513.91" y="652" width="1.18" height="1.18" fill="#9a962a" stroke="none" stroke-width="0.8" />
<rect x="432.12" y="623.09" width="1.11" height="1.11" fill="#e8e03a" stroke="none" stroke-width="0.8" />
<rect x="488.16" y="631.73" width="0.72" height="0.72" fill="#f4f060" stroke="none" stroke-width="0.8" />
<rect x="477.96" y="638.22" width="1.29" height="1.29" fill="#e8e03a" stroke="none" stroke-width="0.8" />
<rect x="482.71" y="635.82" width="0.8" height="0.8" fill="#e8e03a" stroke="none" stroke-width="0.8" />
<rect x="488.08" y="659.86" width="1.03" height="1.03" fill="#c8c23a" stroke="none" stroke-width="0.8" />
<rect x="479.59" y="618.42" width="0.97" height="0.97" fill="#f4f060" stroke="none" stroke-width="0.8" />
<rect x="508.98" y="648.39" width="0.67" height="0.67" fill="#c8c23a" stroke="none" stroke-width="0.8" />
<rect x="490.06" y="661.87" width="0.8" height="0.8" fill="#e8e03a" stroke="none" stroke-width="0.8" />
<rect x="492.54" y="651.84" width="0.93" height="0.93" fill="#9a962a" stroke="none" stroke-width="0.8" />
<rect x="496.3" y="641.49" width="0.78" height="0.78" fill="#c8c23a" stroke="none" stroke-width="0.8" />
<rect x="498.16" y="631.3" width="1.46" height="1.46" fill="#9a962a" stroke="none" stroke-width="0.8" />
<rect x="485.08" y="660.48" width="1.04" height="1.04" fill="#e8e03a" stroke="none" stroke-width="0.8" />
<rect x="514.54" y="624.1" width="0.95" height="0.95" fill="#c8c23a" stroke="none" stroke-width="0.8" />
<rect x="493.95" y="632.24" width="0.7" height="0.7" fill="#e8e03a" stroke="none" stroke-width="0.8" />
<rect x="513.05" y="632.97" width="0.77" height="0.77" fill="#9a962a" stroke="none" stroke-width="0.8" />
<rect x="460.86" y="625.21" width="0.6" height="0.6" fill="#f4f060" stroke="none" stroke-width="0.8" />
<rect x="509.01" y="644.21" width="1.28" height="1.28" fill="#9a962a" stroke="none" stroke-width="0.8" />
<rect x="503.51" y="637.97" width="0.64" height="0.64" fill="#9a962a" stroke="none" stroke-width="0.8" />
<rect x="470.83" y="632.68" width="1.26" height="1.26" fill="#9a962a" stroke="none" stroke-width="0.8" />
<rect x="502.63" y="654.18" width="0.64" height="0.64" fill="#e8e03a" stroke="none" stroke-width="0.8" />
<rect x="514.98" y="619.11" width="1.27" height="1.27" fill="#f4f060" stroke="none" stroke-width="0.8" />
<rect x="512.41" y="631.42" width="1.25" height="1.25" fill="#e8e03a" stroke="none" stroke-width="0.8" />
<polyline points="431.3,624 431.3,616.3 520,616.3 520,666.3 485,666.3" fill="none" stroke="#b4b4bc" stroke-width="0.75" />
<polyline points="432,624.6 450.8,625.3 485,643.2 485,666" fill="none" stroke="#f4ee2a" stroke-width="2.0" />
<polyline points="515.8,611.5 515.8,632 514.3,634" fill="none" stroke="#f0e02a" stroke-width="1.5" />
<line x1="520.8" y1="637.2" x2="607" y2="640.3" stroke="#2cf02c" stroke-width="1.7" />
<line x1="521.5" y1="618" x2="540.5" y2="618" stroke="#d0142e" stroke-width="1.1" />
<line x1="540.8" y1="616.5" x2="540.8" y2="637" stroke="#2fb83a" stroke-width="0.7" />
<line x1="548.5" y1="616.5" x2="546.5" y2="619.5" stroke="#2fb83a" stroke-width="0.6" />
<text x="548.3" y="619.02" fill="#2eea32" stroke="#2eea32" stroke-width="0.42" font-size="3.096" textLength="3.2" lengthAdjust="spacingAndGlyphs" transform="rotate(-70 548.3 618)">8&quot;</text>
<text x="536.6" y="630.02" fill="#2eea32" stroke="#2eea32" stroke-width="0.42" font-size="3.096" textLength="3.2" lengthAdjust="spacingAndGlyphs" transform="rotate(-90 538.2 629)">8&quot;</text>
<text x="536.45" y="652.84" fill="#2eea32" stroke="#2eea32" stroke-width="0.42" font-size="3.44" textLength="5.1" lengthAdjust="spacingAndGlyphs" transform="rotate(-90 539 651.7)">24&quot;</text>
<text x="498.85" y="673.69" fill="#2eea32" stroke="#2eea32" stroke-width="0.42" font-size="3.612" textLength="5.7" lengthAdjust="spacingAndGlyphs">16&quot;</text>
<line x1="539.6" y1="640" x2="539.6" y2="664" stroke="#2fb83a" stroke-width="0.6" />
<text x="452.5" y="588.46" fill="#2eea32" stroke="#2eea32" stroke-width="0.42" font-size="5.332" textLength="30.8" lengthAdjust="spacingAndGlyphs">4&quot; CONCRETE</text>
<text x="452.5" y="592.66" fill="#2eea32" stroke="#2eea32" stroke-width="0.42" font-size="5.332" textLength="11.2" lengthAdjust="spacingAndGlyphs">SLAB</text>
<polyline points="451.5,586.7 441.7,586.7 445,615.8" fill="none" stroke="#2fb83a" stroke-width="0.7" />
<text x="576.7" y="148.46" fill="#2eea32" stroke="#2eea32" stroke-width="0.42" font-size="5.332" textLength="48.24" lengthAdjust="spacingAndGlyphs">COMPOSITE SHINGLES</text>
<polyline points="571.7,146.7 550,146.7 482.5,206.7" fill="none" stroke="#3fae4c" stroke-width="0.9" />
<text x="576.7" y="160.56" fill="#2eea32" stroke="#2eea32" stroke-width="0.42" font-size="5.332" textLength="69.68" lengthAdjust="spacingAndGlyphs">15 LBS. BUILDING FELT OVER</text>
<text x="576.7" y="166.01" fill="#2eea32" stroke="#2eea32" stroke-width="0.42" font-size="5.332" textLength="48.24" lengthAdjust="spacingAndGlyphs">OSB ROOF SHEATHING</text>
<polyline points="571.7,158.8 550,158.8 492.5,210" fill="none" stroke="#3fae4c" stroke-width="0.9" />
<text x="576.7" y="177.06" fill="#2eea32" stroke="#2eea32" stroke-width="0.42" font-size="5.332" textLength="75.04" lengthAdjust="spacingAndGlyphs">ROOF TRUSSES @ 24&quot; O.C. TYP.</text>
<polyline points="571.7,175.3 550,175.3 494,223.3" fill="none" stroke="#3fae4c" stroke-width="0.9" />
<text x="576.7" y="187.06" fill="#2eea32" stroke="#2eea32" stroke-width="0.42" font-size="5.332" textLength="45.56" lengthAdjust="spacingAndGlyphs">INSULATION BAFFLE</text>
<polyline points="571.7,185.3 550,185.3 506.7,224.2" fill="none" stroke="#3fae4c" stroke-width="0.9" />
<text x="576.7" y="195.06" fill="#2eea32" stroke="#2eea32" stroke-width="0.42" font-size="5.332" textLength="40.2" lengthAdjust="spacingAndGlyphs">R-38 INSULATION</text>
<polyline points="571.7,193.3 550,193.3 500,237.5" fill="none" stroke="#3fae4c" stroke-width="0.9" />
<text x="576.7" y="211.76" fill="#2eea32" stroke="#2eea32" stroke-width="0.42" font-size="5.332" textLength="40.2" lengthAdjust="spacingAndGlyphs">HURRICANE CLIPS</text>
<text x="576.7" y="217.21" fill="#2eea32" stroke="#2eea32" stroke-width="0.42" font-size="5.332" textLength="34.84" lengthAdjust="spacingAndGlyphs">AT EACH TRUSS</text>
<polyline points="571.7,210 550,210 520,236.7" fill="none" stroke="#3fae4c" stroke-width="0.9" />
<text x="576.7" y="230.06" fill="#2eea32" stroke="#2eea32" stroke-width="0.42" font-size="5.332" textLength="40.2" lengthAdjust="spacingAndGlyphs">METAL DRIP EDGE</text>
<text x="576.7" y="235.51" fill="#2eea32" stroke="#2eea32" stroke-width="0.42" font-size="5.332" textLength="53.6" lengthAdjust="spacingAndGlyphs">ALUM. WRAPPED FASCIA</text>
<polyline points="571.7,228.3 561.7,228.3 549,240" fill="none" stroke="#3fae4c" stroke-width="0.9" />
<text x="576.7" y="256.76" fill="#2eea32" stroke="#2eea32" stroke-width="0.42" font-size="5.332" textLength="58.96" lengthAdjust="spacingAndGlyphs">ALUMINUM GUTTER ON 1x6</text>
<text x="576.7" y="262.21" fill="#2eea32" stroke="#2eea32" stroke-width="0.42" font-size="5.332" textLength="53.6" lengthAdjust="spacingAndGlyphs">ALUM. WRAPPED FASCIA</text>
<polyline points="571.7,255 561.7,255 553.3,247.5" fill="none" stroke="#3fae4c" stroke-width="0.9" />
<text x="576.7" y="273.46" fill="#2eea32" stroke="#2eea32" stroke-width="0.42" font-size="5.332" textLength="50.92" lengthAdjust="spacingAndGlyphs">VENTED VINYL SOFFIT</text>
<polyline points="571.7,271.7 551.7,271.7 535,251.7" fill="none" stroke="#3fae4c" stroke-width="0.9" />
<text x="576.7" y="284.26" fill="#2eea32" stroke="#2eea32" stroke-width="0.42" font-size="5.332" textLength="45.56" lengthAdjust="spacingAndGlyphs">FRIEZE AS SPEC'D.</text>
<polyline points="571.7,282.5 551.7,282.5 524.2,253.3" fill="none" stroke="#3fae4c" stroke-width="0.9" />
<text x="576.7" y="317.76" fill="#2eea32" stroke="#2eea32" stroke-width="0.42" font-size="5.332" textLength="29.48" lengthAdjust="spacingAndGlyphs">1/2&quot; G.W.B.</text>
<polyline points="571.7,316 548.3,315.8 464,248.3" fill="none" stroke="#3fae4c" stroke-width="0.9" />
<text x="576.7" y="345.96" fill="#2eea32" stroke="#2eea32" stroke-width="0.42" font-size="5.332" textLength="45.56" lengthAdjust="spacingAndGlyphs">VINYL WINDOW TRIM</text>
<polyline points="571.7,344.2 548.3,344.2 523.3,358.3" fill="none" stroke="#3fae4c" stroke-width="0.9" />
<text x="576.7" y="396.76" fill="#2eea32" stroke="#2eea32" stroke-width="0.42" font-size="5.332" textLength="40.2" lengthAdjust="spacingAndGlyphs">2x4 AT 16&quot; O.C.</text>
<polyline points="571.7,395 550,395 522.5,377.5" fill="none" stroke="#3fae4c" stroke-width="0.9" />
<text x="576.7" y="406.76" fill="#2eea32" stroke="#2eea32" stroke-width="0.42" font-size="5.332" textLength="40.2" lengthAdjust="spacingAndGlyphs">R-13 INSULATION</text>
<polyline points="571.7,405 550,405 521.7,386.7" fill="none" stroke="#3fae4c" stroke-width="0.9" />
<text x="576.7" y="421.46" fill="#2eea32" stroke="#2eea32" stroke-width="0.42" font-size="5.332" textLength="56.28" lengthAdjust="spacingAndGlyphs">1/2&quot; O.S.B. SHEATHING</text>
<text x="576.7" y="426.91" fill="#2eea32" stroke="#2eea32" stroke-width="0.42" font-size="5.332" textLength="37.52" lengthAdjust="spacingAndGlyphs">W/ &quot;HOUSEWRAP&quot;</text>
<polyline points="571.7,419.7 550,419.7 521.7,404" fill="none" stroke="#3fae4c" stroke-width="0.9" />
<text x="576.7" y="434.26" fill="#2eea32" stroke="#2eea32" stroke-width="0.42" font-size="5.332" textLength="32.16" lengthAdjust="spacingAndGlyphs">VINYL SIDING</text>
<polyline points="571.7,432.5 550,432.5 521.7,418.3" fill="none" stroke="#3fae4c" stroke-width="0.9" />
<text x="576.7" y="445.46" fill="#2eea32" stroke="#2eea32" stroke-width="0.42" font-size="5.332" textLength="42.88" lengthAdjust="spacingAndGlyphs">ENGINEERED FLOOR</text>
<text x="576.7" y="450.91" fill="#2eea32" stroke="#2eea32" stroke-width="0.42" font-size="5.332" textLength="42.88" lengthAdjust="spacingAndGlyphs">SYSTEM BY OTHERS</text>
<polyline points="571.7,443.7 550,443.7 493,416.7" fill="none" stroke="#3fae4c" stroke-width="0.9" />
<text x="576.7" y="462.26" fill="#2eea32" stroke="#2eea32" stroke-width="0.42" font-size="5.332" textLength="21.44" lengthAdjust="spacingAndGlyphs">1/2&quot; GWB</text>
<polyline points="571.7,460.5 550,460.5 498,435.8" fill="none" stroke="#3fae4c" stroke-width="0.9" />
<text x="576.7" y="470.46" fill="#2eea32" stroke="#2eea32" stroke-width="0.42" font-size="5.332" textLength="21.44" lengthAdjust="spacingAndGlyphs">FLASHING</text>
<polyline points="571.7,468.7 550,468.7 522.5,455.8" fill="none" stroke="#3fae4c" stroke-width="0.9" />
<text x="576.7" y="479.76" fill="#2eea32" stroke="#2eea32" stroke-width="0.42" font-size="5.332" textLength="45.56" lengthAdjust="spacingAndGlyphs">VINYL WINDOW TRIM</text>
<polyline points="571.7,478 550,478 522.5,465" fill="none" stroke="#3fae4c" stroke-width="0.9" />
<text x="576.7" y="551.76" fill="#2eea32" stroke="#2eea32" stroke-width="0.42" font-size="5.332" textLength="45.56" lengthAdjust="spacingAndGlyphs">VINYL WINDOW TRIM</text>
<polyline points="571.7,550 550,550 521.7,573.3" fill="none" stroke="#3fae4c" stroke-width="0.9" />
<text x="576.7" y="590.56" fill="#2eea32" stroke="#2eea32" stroke-width="0.42" font-size="5.332" textLength="58.96" lengthAdjust="spacingAndGlyphs">1/2&quot; DIA. ANCHOR BOLTS</text>
<text x="576.7" y="596.01" fill="#2eea32" stroke="#2eea32" stroke-width="0.42" font-size="5.332" textLength="56.28" lengthAdjust="spacingAndGlyphs">OR STRAPS AS REQUIRED</text>
<text x="576.7" y="601.46" fill="#2eea32" stroke="#2eea32" stroke-width="0.42" font-size="5.332" textLength="67" lengthAdjust="spacingAndGlyphs">REFER TO FOUNDATION PLAN.</text>
<polyline points="571.7,588.8 550,588.8 521.7,607.5" fill="none" stroke="#3fae4c" stroke-width="0.9" />
<text x="576.7" y="613.06" fill="#2eea32" stroke="#2eea32" stroke-width="0.42" font-size="5.332" textLength="32.16" lengthAdjust="spacingAndGlyphs">TREATED SILL</text>
<text x="576.7" y="618.51" fill="#2eea32" stroke="#2eea32" stroke-width="0.42" font-size="5.332" textLength="13.4" lengthAdjust="spacingAndGlyphs">PLATE</text>
<polyline points="571.7,611.3 550,611.3 521.7,615" fill="none" stroke="#3fae4c" stroke-width="0.9" />
<text x="576.7" y="636.46" fill="#2eea32" stroke="#2eea32" stroke-width="0.42" font-size="5.332" textLength="32.16" lengthAdjust="spacingAndGlyphs">FINISH GRADE</text>
<text x="576.7" y="650.96" fill="#2eea32" stroke="#2eea32" stroke-width="0.42" font-size="5.332" textLength="45.56" lengthAdjust="spacingAndGlyphs">24&quot; R-5 PERIMETER</text>
<text x="576.7" y="656.41" fill="#2eea32" stroke="#2eea32" stroke-width="0.42" font-size="5.332" textLength="40.2" lengthAdjust="spacingAndGlyphs">SLAB INSULATION</text>
<text x="576.7" y="661.86" fill="#2eea32" stroke="#2eea32" stroke-width="0.42" font-size="5.332" textLength="26.8" lengthAdjust="spacingAndGlyphs">(OPTIONAL)</text>
<polyline points="571.7,649.2 548,649.2 487,657" fill="none" stroke="#3fae4c" stroke-width="0.9" />
</g>
<g filter="url(#soft)">
<line x1="717.5" y1="136.7" x2="717.5" y2="238.3" stroke="#27b8d0" stroke-width="0.9" />
<polyline points="717.5,184.5 715.3,186.5 719.7,188.5 717.5,190.5" fill="none" stroke="#27b8d0" stroke-width="0.8" />
<line x1="720" y1="168.3" x2="771.7" y2="201.7" stroke="#d0142e" stroke-width="0.9" />
<line x1="718.3" y1="145" x2="820.8" y2="214.2" stroke="#cc3adc" stroke-width="1.5" />
<line x1="718.3" y1="147.6" x2="819.3" y2="216" stroke="#8e2cb8" stroke-width="1.2" />
<line x1="820.2" y1="214" x2="820.2" y2="227" stroke="#d92be0" stroke-width="1.5" />
<polyline points="726.7,142.5 744.7,142.5 744.7,152.5 726.7,142.5" fill="none" stroke="#27b8d0" stroke-width="0.7" />
<text x="732.4" y="141.56" fill="#38e4f4" stroke="#38e4f4" stroke-width="0.42" font-size="5.332" textLength="5.2" lengthAdjust="spacingAndGlyphs">12</text>
<text x="747.5" y="149.03" fill="#38e4f4" stroke="#38e4f4" stroke-width="0.42" font-size="4.644" textLength="25" lengthAdjust="spacingAndGlyphs">7 (VERIFY)</text>
<line x1="719" y1="202.5" x2="790.8" y2="202.5" stroke="#cc1430" stroke-width="0.9" />
<line x1="790.8" y1="202.5" x2="790.8" y2="225" stroke="#e4122e" stroke-width="1.0" />
<path d="M719.6,203.5 C720.5,214.5 721.2,219 722.61,223.5 M727,203.5 C726.1,214.5 725.4,219 723.99,223.5 M728.2,203.5 C729.1,214.5 729.8,219 731.21,223.5 M735.6,203.5 C734.7,214.5 734,219 732.59,223.5 M736.8,203.5 C737.7,214.5 738.4,219 739.81,223.5 M744.2,203.5 C743.3,214.5 742.6,219 741.19,223.5 M745.4,203.5 C746.3,214.5 747,219 748.41,223.5 M752.8,203.5 C751.9,214.5 751.2,219 749.79,223.5 M754,203.5 C754.9,214.5 755.6,219 757.01,223.5 M761.4,203.5 C760.5,214.5 759.8,219 758.39,223.5 M762.6,203.5 C763.5,214.5 764.2,219 765.61,223.5 M770,203.5 C769.1,214.5 768.4,219 766.99,223.5 M771.2,203.5 C772.1,214.5 772.8,219 774.21,223.5 M778.6,203.5 C777.7,214.5 777,219 775.59,223.5 M779.8,203.5 C780.7,214.5 781.4,219 782.81,223.5 M787.2,203.5 C786.3,214.5 785.6,219 784.19,223.5 M788.4,203.5 C789.3,214.5 790,219 789.06,223.5 M790.2,203.5 C789.3,214.5 788.6,219 789.54,223.5 " fill="none" stroke="#cc1430" stroke-width="0.95"/>
<line x1="717.5" y1="225" x2="820.5" y2="225" stroke="#e83ad0" stroke-width="1.9" />
<polyline points="826,215.5 828.5,220 825.5,225.5 822,226.5" fill="none" stroke="#c02ad0" stroke-width="0.8" />
<line x1="783.2" y1="225" x2="783.2" y2="306.5" stroke="#e83ad0" stroke-width="1.0" stroke-dasharray="2.4 0.7"/>
<rect x="784.6" y="225" width="6.4" height="81.5" fill="#a8142e" stroke="none" stroke-width="0.8" />
<path d="M784.3,225.8H786 M787.6,226.7H789.6 M784.3,227.6H786 M787.6,228.5H789.6 M784.3,229.4H786 M787.6,230.3H789.6 M784.3,231.2H786 M787.6,232.1H789.6 M784.3,233H786 M787.6,233.9H789.6 M784.3,234.8H786 M787.6,235.7H789.6 M784.3,236.6H786 M787.6,237.5H789.6 M784.3,238.4H786 M787.6,239.3H789.6 M784.3,240.2H786 M787.6,241.1H789.6 M784.3,242H786 M787.6,242.9H789.6 M784.3,243.8H786 M787.6,244.7H789.6 M784.3,245.6H786 M787.6,246.5H789.6 M784.3,247.4H786 M787.6,248.3H789.6 M784.3,249.2H786 M787.6,250.1H789.6 M784.3,251H786 M787.6,251.9H789.6 M784.3,252.8H786 M787.6,253.7H789.6 M784.3,254.6H786 M787.6,255.5H789.6 M784.3,256.4H786 M787.6,257.3H789.6 M784.3,258.2H786 M787.6,259.1H789.6 M784.3,260H786 M787.6,260.9H789.6 M784.3,261.8H786 M787.6,262.7H789.6 M784.3,263.6H786 M787.6,264.5H789.6 M784.3,265.4H786 M787.6,266.3H789.6 M784.3,267.2H786 M787.6,268.1H789.6 M784.3,269H786 M787.6,269.9H789.6 M784.3,270.8H786 M787.6,271.7H789.6 M784.3,272.6H786 M787.6,273.5H789.6 M784.3,274.4H786 M787.6,275.3H789.6 M784.3,276.2H786 M787.6,277.1H789.6 M784.3,278H786 M787.6,278.9H789.6 M784.3,279.8H786 M787.6,280.7H789.6 M784.3,281.6H786 M787.6,282.5H789.6 M784.3,283.4H786 M787.6,284.3H789.6 M784.3,285.2H786 M787.6,286.1H789.6 M784.3,287H786 M787.6,287.9H789.6 M784.3,288.8H786 M787.6,289.7H789.6 M784.3,290.6H786 M787.6,291.5H789.6 M784.3,292.4H786 M787.6,293.3H789.6 M784.3,294.2H786 M787.6,295.1H789.6 M784.3,296H786 M787.6,296.9H789.6 M784.3,297.8H786 M787.6,298.7H789.6 M784.3,299.6H786 M787.6,300.5H789.6 M784.3,301.4H786 M787.6,302.3H789.6 M784.3,303.2H786 M787.6,304.1H789.6 M784.3,305H786 M787.6,305.9H789.6 " stroke="#5a1432" stroke-width="0.7" fill="none"/>
<line x1="792.3" y1="225" x2="792.3" y2="306.5" stroke="#e83ad0" stroke-width="0.9" stroke-dasharray="2.4 0.7"/>
<line x1="793.8" y1="225" x2="793.8" y2="306.5" stroke="#c62cf0" stroke-width="1.4" />
<line x1="783.2" y1="322" x2="783.2" y2="363" stroke="#e83ad0" stroke-width="1.0" stroke-dasharray="2.4 0.7"/>
<rect x="784.6" y="322" width="6.4" height="41" fill="#a8142e" stroke="none" stroke-width="0.8" />
<path d="M784.3,322.8H786 M787.6,323.7H789.6 M784.3,324.6H786 M787.6,325.5H789.6 M784.3,326.4H786 M787.6,327.3H789.6 M784.3,328.2H786 M787.6,329.1H789.6 M784.3,330H786 M787.6,330.9H789.6 M784.3,331.8H786 M787.6,332.7H789.6 M784.3,333.6H786 M787.6,334.5H789.6 M784.3,335.4H786 M787.6,336.3H789.6 M784.3,337.2H786 M787.6,338.1H789.6 M784.3,339H786 M787.6,339.9H789.6 M784.3,340.8H786 M787.6,341.7H789.6 M784.3,342.6H786 M787.6,343.5H789.6 M784.3,344.4H786 M787.6,345.3H789.6 M784.3,346.2H786 M787.6,347.1H789.6 M784.3,348H786 M787.6,348.9H789.6 M784.3,349.8H786 M787.6,350.7H789.6 M784.3,351.6H786 M787.6,352.5H789.6 M784.3,353.4H786 M787.6,354.3H789.6 M784.3,355.2H786 M787.6,356.1H789.6 M784.3,357H786 M787.6,357.9H789.6 M784.3,358.8H786 M787.6,359.7H789.6 M784.3,360.6H786 M787.6,361.5H789.6 M784.3,362.4H786 M787.6,363.3H789.6 " stroke="#5a1432" stroke-width="0.7" fill="none"/>
<line x1="792.3" y1="322" x2="792.3" y2="363" stroke="#e83ad0" stroke-width="0.9" stroke-dasharray="2.4 0.7"/>
<line x1="793.8" y1="322" x2="793.8" y2="363" stroke="#c62cf0" stroke-width="1.4" />
<line x1="783.2" y1="384.5" x2="783.2" y2="493.5" stroke="#e83ad0" stroke-width="1.0" stroke-dasharray="2.4 0.7"/>
<rect x="784.6" y="384.5" width="6.4" height="109" fill="#a8142e" stroke="none" stroke-width="0.8" />
<path d="M784.3,385.3H786 M787.6,386.2H789.6 M784.3,387.1H786 M787.6,388H789.6 M784.3,388.9H786 M787.6,389.8H789.6 M784.3,390.7H786 M787.6,391.6H789.6 M784.3,392.5H786 M787.6,393.4H789.6 M784.3,394.3H786 M787.6,395.2H789.6 M784.3,396.1H786 M787.6,397H789.6 M784.3,397.9H786 M787.6,398.8H789.6 M784.3,399.7H786 M787.6,400.6H789.6 M784.3,401.5H786 M787.6,402.4H789.6 M784.3,403.3H786 M787.6,404.2H789.6 M784.3,405.1H786 M787.6,406H789.6 M784.3,406.9H786 M787.6,407.8H789.6 M784.3,408.7H786 M787.6,409.6H789.6 M784.3,410.5H786 M787.6,411.4H789.6 M784.3,412.3H786 M787.6,413.2H789.6 M784.3,414.1H786 M787.6,415H789.6 M784.3,415.9H786 M787.6,416.8H789.6 M784.3,417.7H786 M787.6,418.6H789.6 M784.3,419.5H786 M787.6,420.4H789.6 M784.3,421.3H786 M787.6,422.2H789.6 M784.3,423.1H786 M787.6,424H789.6 M784.3,424.9H786 M787.6,425.8H789.6 M784.3,426.7H786 M787.6,427.6H789.6 M784.3,428.5H786 M787.6,429.4H789.6 M784.3,430.3H786 M787.6,431.2H789.6 M784.3,432.1H786 M787.6,433H789.6 M784.3,433.9H786 M787.6,434.8H789.6 M784.3,435.7H786 M787.6,436.6H789.6 M784.3,437.5H786 M787.6,438.4H789.6 M784.3,439.3H786 M787.6,440.2H789.6 M784.3,441.1H786 M787.6,442H789.6 M784.3,442.9H786 M787.6,443.8H789.6 M784.3,444.7H786 M787.6,445.6H789.6 M784.3,446.5H786 M787.6,447.4H789.6 M784.3,448.3H786 M787.6,449.2H789.6 M784.3,450.1H786 M787.6,451H789.6 M784.3,451.9H786 M787.6,452.8H789.6 M784.3,453.7H786 M787.6,454.6H789.6 M784.3,455.5H786 M787.6,456.4H789.6 M784.3,457.3H786 M787.6,458.2H789.6 M784.3,459.1H786 M787.6,460H789.6 M784.3,460.9H786 M787.6,461.8H789.6 M784.3,462.7H786 M787.6,463.6H789.6 M784.3,464.5H786 M787.6,465.4H789.6 M784.3,466.3H786 M787.6,467.2H789.6 M784.3,468.1H786 M787.6,469H789.6 M784.3,469.9H786 M787.6,470.8H789.6 M784.3,471.7H786 M787.6,472.6H789.6 M784.3,473.5H786 M787.6,474.4H789.6 M784.3,475.3H786 M787.6,476.2H789.6 M784.3,477.1H786 M787.6,478H789.6 M784.3,478.9H786 M787.6,479.8H789.6 M784.3,480.7H786 M787.6,481.6H789.6 M784.3,482.5H786 M787.6,483.4H789.6 M784.3,484.3H786 M787.6,485.2H789.6 M784.3,486.1H786 M787.6,487H789.6 M784.3,487.9H786 M787.6,488.8H789.6 M784.3,489.7H786 M787.6,490.6H789.6 M784.3,491.5H786 M787.6,492.4H789.6 M784.3,493.3H786 M787.6,494.2H789.6 " stroke="#5a1432" stroke-width="0.7" fill="none"/>
<line x1="792.3" y1="384.5" x2="792.3" y2="493.5" stroke="#e83ad0" stroke-width="0.9" stroke-dasharray="2.4 0.7"/>
<line x1="793.8" y1="384.5" x2="793.8" y2="493.5" stroke="#c62cf0" stroke-width="1.4" />
<line x1="783.2" y1="508.5" x2="783.2" y2="574.5" stroke="#e83ad0" stroke-width="1.0" stroke-dasharray="2.4 0.7"/>
<rect x="784.6" y="508.5" width="6.4" height="66" fill="#a8142e" stroke="none" stroke-width="0.8" />
<path d="M784.3,509.3H786 M787.6,510.2H789.6 M784.3,511.1H786 M787.6,512H789.6 M784.3,512.9H786 M787.6,513.8H789.6 M784.3,514.7H786 M787.6,515.6H789.6 M784.3,516.5H786 M787.6,517.4H789.6 M784.3,518.3H786 M787.6,519.2H789.6 M784.3,520.1H786 M787.6,521H789.6 M784.3,521.9H786 M787.6,522.8H789.6 M784.3,523.7H786 M787.6,524.6H789.6 M784.3,525.5H786 M787.6,526.4H789.6 M784.3,527.3H786 M787.6,528.2H789.6 M784.3,529.1H786 M787.6,530H789.6 M784.3,530.9H786 M787.6,531.8H789.6 M784.3,532.7H786 M787.6,533.6H789.6 M784.3,534.5H786 M787.6,535.4H789.6 M784.3,536.3H786 M787.6,537.2H789.6 M784.3,538.1H786 M787.6,539H789.6 M784.3,539.9H786 M787.6,540.8H789.6 M784.3,541.7H786 M787.6,542.6H789.6 M784.3,543.5H786 M787.6,544.4H789.6 M784.3,545.3H786 M787.6,546.2H789.6 M784.3,547.1H786 M787.6,548H789.6 M784.3,548.9H786 M787.6,549.8H789.6 M784.3,550.7H786 M787.6,551.6H789.6 M784.3,552.5H786 M787.6,553.4H789.6 M784.3,554.3H786 M787.6,555.2H789.6 M784.3,556.1H786 M787.6,557H789.6 M784.3,557.9H786 M787.6,558.8H789.6 M784.3,559.7H786 M787.6,560.6H789.6 M784.3,561.5H786 M787.6,562.4H789.6 M784.3,563.3H786 M787.6,564.2H789.6 M784.3,565.1H786 M787.6,566H789.6 M784.3,566.9H786 M787.6,567.8H789.6 M784.3,568.7H786 M787.6,569.6H789.6 M784.3,570.5H786 M787.6,571.4H789.6 M784.3,572.3H786 M787.6,573.2H789.6 M784.3,574.1H786 M787.6,575H789.6 " stroke="#5a1432" stroke-width="0.7" fill="none"/>
<line x1="792.3" y1="508.5" x2="792.3" y2="574.5" stroke="#e83ad0" stroke-width="0.9" stroke-dasharray="2.4 0.7"/>
<line x1="793.8" y1="508.5" x2="793.8" y2="574.5" stroke="#c62cf0" stroke-width="1.4" />
<line x1="783.3" y1="228" x2="791.5" y2="228" stroke="#f0a0d8" stroke-width="0.7" />
<line x1="783.3" y1="231" x2="791.5" y2="231" stroke="#f0a0d8" stroke-width="0.7" />
<line x1="771.7" y1="307.5" x2="800" y2="307.5" stroke="#d0142e" stroke-width="0.9" stroke-dasharray="3 0.8"/>
<rect x="785.5" y="305.7" width="3.2" height="3.6" fill="#e4122e" stroke="none" stroke-width="0.8" />
<line x1="771.7" y1="320.8" x2="800" y2="320.8" stroke="#d0142e" stroke-width="0.9" stroke-dasharray="3 0.8"/>
<rect x="785.5" y="319" width="3.2" height="3.6" fill="#e4122e" stroke="none" stroke-width="0.8" />
<line x1="771.7" y1="494.2" x2="800" y2="494.2" stroke="#d0142e" stroke-width="0.9" stroke-dasharray="3 0.8"/>
<rect x="785.5" y="492.4" width="3.2" height="3.6" fill="#e4122e" stroke="none" stroke-width="0.8" />
<line x1="771.7" y1="507.5" x2="800" y2="507.5" stroke="#d0142e" stroke-width="0.9" stroke-dasharray="3 0.8"/>
<rect x="785.5" y="505.7" width="3.2" height="3.6" fill="#e4122e" stroke="none" stroke-width="0.8" />
<line x1="757.5" y1="225" x2="757.5" y2="600" stroke="#c8c838" stroke-width="0.9" />
<line x1="793.8" y1="363" x2="793.8" y2="384.5" stroke="#c62cf0" stroke-width="1.4" />
<text x="742.9" y="294.03" fill="#f2f22a" stroke="#f2f22a" stroke-width="0.42" font-size="4.644" textLength="21.6" lengthAdjust="spacingAndGlyphs" transform="rotate(-90 753.7 292.5)">9'-1 1/8&quot;</text>
<text x="740.95" y="481.03" fill="#f2f22a" stroke="#f2f22a" stroke-width="0.42" font-size="4.644" textLength="25.5" lengthAdjust="spacingAndGlyphs" transform="rotate(-90 753.7 479.5)">16'-1 1/2&quot;</text>
<line x1="793.3" y1="243.3" x2="821" y2="243.3" stroke="#d8d83a" stroke-width="0.8" />
<line x1="793.8" y1="229" x2="793.8" y2="246" stroke="#27b8d0" stroke-width="0.7" />
<line x1="820.2" y1="236" x2="820.2" y2="246" stroke="#d8d83a" stroke-width="0.7" />
<text x="800.5" y="242.02" fill="#f2f22a" stroke="#f2f22a" stroke-width="0.42" font-size="4.3" textLength="11.5" lengthAdjust="spacingAndGlyphs">1'-0&quot;</text>
<text x="813" y="242.13" fill="#f2f22a" stroke="#f2f22a" stroke-width="0.42" font-size="4.644" textLength="16.5" lengthAdjust="spacingAndGlyphs">SHOWN</text>
<rect x="812.5" y="238.8" width="17.5" height="3.4" fill="#e8e82a" stroke="none" stroke-width="0" opacity="0.5"/>
<line x1="757.5" y1="361.3" x2="783.3" y2="361.3" stroke="#f0e82a" stroke-width="1.6" />
<line x1="717.5" y1="363.3" x2="790.8" y2="363.3" stroke="#f0a0d8" stroke-width="0.9" />
<line x1="717.5" y1="384.2" x2="790.8" y2="384.2" stroke="#e070d8" stroke-width="1.0" />
<line x1="788.3" y1="363.3" x2="788.3" y2="384.2" stroke="#f0a0d8" stroke-width="0.8" />
<line x1="790.8" y1="363.3" x2="790.8" y2="384.2" stroke="#f0a0d8" stroke-width="0.8" />
<line x1="717.5" y1="363.3" x2="717.5" y2="384.2" stroke="#27b8d0" stroke-width="0.8" />
<polyline points="717.5,371.5 715.3,373 719.7,374.5 717.5,376" fill="none" stroke="#27b8d0" stroke-width="0.8" />
<text x="712.5" y="359.76" fill="#38e4f4" stroke="#38e4f4" stroke-width="0.42" font-size="5.332" textLength="24.3" lengthAdjust="spacingAndGlyphs">2ND FLOOR</text>
<text x="747.8" y="375.68" fill="#f2f22a" stroke="#f2f22a" stroke-width="0.42" font-size="4.472" textLength="14.4" lengthAdjust="spacingAndGlyphs" transform="rotate(-90 755 374.2)">HEIGHT</text>
<text x="750.2" y="357.08" fill="#f2f22a" stroke="#f2f22a" stroke-width="0.42" font-size="3.268" textLength="6.4" lengthAdjust="spacingAndGlyphs" transform="rotate(-90 753.4 356)">3/4&quot;</text>
<line x1="755" y1="358.5" x2="759.5" y2="358.5" stroke="#f2f22a" stroke-width="0.7" />
<rect x="756.6" y="360.4" width="1.8" height="1.8" fill="#f2f22a" stroke="none" stroke-width="0.8" />
<rect x="756.6" y="362.4" width="1.8" height="1.8" fill="#f2f22a" stroke="none" stroke-width="0.8" />
<rect x="756.6" y="383.3" width="1.8" height="1.8" fill="#f2f22a" stroke="none" stroke-width="0.8" />
<line x1="717.5" y1="575" x2="757.5" y2="575" stroke="#e83ad0" stroke-width="1.0" />
<line x1="757.5" y1="574.2" x2="783.3" y2="574.2" stroke="#f0e82a" stroke-width="1.5" />
<line x1="717.5" y1="576.9" x2="790.8" y2="576.9" stroke="#f0a0d8" stroke-width="0.8" />
<line x1="717.5" y1="597.5" x2="757.5" y2="597.5" stroke="#f0a0d8" stroke-width="0.9" />
<line x1="757.5" y1="596.7" x2="783.3" y2="596.7" stroke="#f0e82a" stroke-width="1.2" />
<line x1="757.5" y1="600" x2="783.3" y2="600" stroke="#f0e82a" stroke-width="1.2" />
<line x1="783.3" y1="596.7" x2="783.3" y2="600" stroke="#f0e82a" stroke-width="1.0" />
<line x1="788.3" y1="576.9" x2="788.3" y2="597.5" stroke="#f0a0d8" stroke-width="0.8" />
<line x1="790.8" y1="576.9" x2="790.8" y2="597.5" stroke="#f0a0d8" stroke-width="0.8" />
<line x1="717.5" y1="575" x2="717.5" y2="597.5" stroke="#27b8d0" stroke-width="0.8" />
<polyline points="717.5,583.5 715.3,585 719.7,586.5 717.5,588" fill="none" stroke="#27b8d0" stroke-width="0.8" />
<polyline points="720,579.3 725.28,594 730.56,579.3 735.84,594 741.12,579.3 746.4,594 751.68,579.3 756.96,594 762.24,579.3 767.52,594 772.8,579.3 778.08,594 783.36,579.3" fill="none" stroke="#e4122e" stroke-width="1.1" />
<polyline points="720,594 725.28,579.3 730.56,594 735.84,579.3 741.12,594 746.4,579.3 751.68,594 756.96,579.3 762.24,594 767.52,579.3 772.8,594 778.08,579.3 783.36,594" fill="none" stroke="#e4122e" stroke-width="1.1" />
<line x1="720" y1="586.6" x2="783.3" y2="586.6" stroke="#a01030" stroke-width="0.6" />
<text x="715" y="572.56" fill="#38e4f4" stroke="#38e4f4" stroke-width="0.42" font-size="5.332" textLength="23.4" lengthAdjust="spacingAndGlyphs">1ST FLOOR</text>
<text x="748.1" y="588.28" fill="#f2f22a" stroke="#f2f22a" stroke-width="0.42" font-size="4.472" textLength="13.8" lengthAdjust="spacingAndGlyphs" transform="rotate(-90 755 586.8)">HEIGHT</text>
<text x="750.2" y="568.58" fill="#f2f22a" stroke="#f2f22a" stroke-width="0.42" font-size="3.268" textLength="6.4" lengthAdjust="spacingAndGlyphs" transform="rotate(-90 753.4 567.5)">3/4&quot;</text>
<line x1="755" y1="571" x2="759.5" y2="571" stroke="#f2f22a" stroke-width="0.7" />
<text x="750.8" y="608.58" fill="#f2f22a" stroke="#f2f22a" stroke-width="0.42" font-size="3.268" textLength="6.4" lengthAdjust="spacingAndGlyphs" transform="rotate(-90 754 607.5)">1/2&quot;</text>
<rect x="756.6" y="573.7" width="1.8" height="1.8" fill="#f2f22a" stroke="none" stroke-width="0.8" />
<rect x="756.6" y="596.1" width="1.8" height="1.8" fill="#f2f22a" stroke="none" stroke-width="0.8" />
<rect x="756.6" y="599.1" width="1.8" height="1.8" fill="#f2f22a" stroke="none" stroke-width="0.8" />
<line x1="793.8" y1="574.5" x2="793.8" y2="598.3" stroke="#c62cf0" stroke-width="1.4" />
<polygon points="737.5,647.5 774.5,647.5 774.5,653.3 765.5,653.3 765.5,671.7 801.7,671.7 801.7,653.3 792.5,653.3 792.5,634.5 823.3,638.3 823.3,685.8 753.3,685.8" fill="url(#earthR)" stroke="none" stroke-width="0.8" />
<polygon points="792.5,632.6 845,637.2 845,638.6 823.3,638.6 792.5,636" fill="#e8142e" stroke="none" stroke-width="0.8" />
<line x1="793" y1="633.2" x2="845" y2="637.8" stroke="#f0142e" stroke-width="1.6" />
<line x1="718.3" y1="647.5" x2="737.5" y2="647.5" stroke="#e8288a" stroke-width="1.0" />
<line x1="737.5" y1="647.5" x2="774.5" y2="647.5" stroke="#e4122e" stroke-width="1.0" />
<rect x="774.5" y="600" width="18" height="53.3" fill="url(#brickR)" stroke="none" stroke-width="0.8" />
<line x1="774.5" y1="600" x2="774.5" y2="653.3" stroke="#f0a0d8" stroke-width="0.9" />
<line x1="792.5" y1="600" x2="792.5" y2="653.3" stroke="#f0a0d8" stroke-width="0.9" />
<line x1="774.5" y1="600" x2="792.5" y2="600" stroke="#f0a0d8" stroke-width="0.8" />
<line x1="786.7" y1="596.7" x2="786.7" y2="618.3" stroke="#f02ad0" stroke-width="1.4" />
<rect x="765.5" y="653.3" width="36.2" height="18.4" fill="#2a2238" stroke="#f0a0d8" stroke-width="1.0" />
<rect x="782.68" y="669.35" width="0.9" height="0.9" fill="#8a1430" stroke="none" stroke-width="0.8" />
<rect x="793.06" y="668.7" width="0.9" height="0.9" fill="#8a1430" stroke="none" stroke-width="0.8" />
<rect x="771.38" y="662.45" width="0.9" height="0.9" fill="#c4142e" stroke="none" stroke-width="0.8" />
<rect x="793.48" y="666.08" width="0.9" height="0.9" fill="#c4142e" stroke="none" stroke-width="0.8" />
<rect x="787.04" y="659.92" width="0.9" height="0.9" fill="#8a1430" stroke="none" stroke-width="0.8" />
<rect x="782.21" y="666.76" width="0.9" height="0.9" fill="#c4142e" stroke="none" stroke-width="0.8" />
<rect x="783.89" y="660.88" width="0.9" height="0.9" fill="#c4142e" stroke="none" stroke-width="0.8" />
<rect x="775.16" y="655.97" width="0.9" height="0.9" fill="#c4142e" stroke="none" stroke-width="0.8" />
<rect x="782.9" y="663.17" width="0.9" height="0.9" fill="#c4142e" stroke="none" stroke-width="0.8" />
<rect x="799.35" y="668.25" width="0.9" height="0.9" fill="#c4142e" stroke="none" stroke-width="0.8" />
<rect x="775.74" y="656.26" width="0.9" height="0.9" fill="#c4142e" stroke="none" stroke-width="0.8" />
<rect x="780.89" y="669.83" width="0.9" height="0.9" fill="#8a1430" stroke="none" stroke-width="0.8" />
<rect x="772.72" y="656.99" width="0.9" height="0.9" fill="#8a1430" stroke="none" stroke-width="0.8" />
<rect x="787.47" y="665.11" width="0.9" height="0.9" fill="#c4142e" stroke="none" stroke-width="0.8" />
<rect x="792.73" y="659.41" width="0.9" height="0.9" fill="#8a1430" stroke="none" stroke-width="0.8" />
<rect x="785.71" y="660.59" width="0.9" height="0.9" fill="#8a1430" stroke="none" stroke-width="0.8" />
<rect x="773.57" y="658.71" width="0.9" height="0.9" fill="#c4142e" stroke="none" stroke-width="0.8" />
<rect x="774.77" y="659.22" width="0.9" height="0.9" fill="#c4142e" stroke="none" stroke-width="0.8" />
<rect x="777.77" y="660.94" width="0.9" height="0.9" fill="#c4142e" stroke="none" stroke-width="0.8" />
<rect x="783.74" y="658.47" width="0.9" height="0.9" fill="#c4142e" stroke="none" stroke-width="0.8" />
<rect x="788.56" y="669.86" width="0.9" height="0.9" fill="#c4142e" stroke="none" stroke-width="0.8" />
<rect x="767.15" y="668.24" width="0.9" height="0.9" fill="#c4142e" stroke="none" stroke-width="0.8" />
<rect x="794.74" y="668.72" width="0.9" height="0.9" fill="#c4142e" stroke="none" stroke-width="0.8" />
<rect x="795.94" y="658.49" width="0.9" height="0.9" fill="#c4142e" stroke="none" stroke-width="0.8" />
<rect x="773.26" y="669.59" width="0.9" height="0.9" fill="#c4142e" stroke="none" stroke-width="0.8" />
<rect x="797.7" y="660.58" width="0.9" height="0.9" fill="#c4142e" stroke="none" stroke-width="0.8" />
<circle cx="798.3" cy="648.3" r="2.2" fill="#2a2238" stroke="#5a1432" stroke-width="0.6"/>
<circle cx="806.7" cy="647.6" r="2.2" fill="#2a2238" stroke="#5a1432" stroke-width="0.6"/>
<text x="853.7" y="149.26" fill="#38e4f4" stroke="#38e4f4" stroke-width="0.42" font-size="5.332" textLength="73.36" lengthAdjust="spacingAndGlyphs">COMPOSITE SHINGLES OVER 15 #</text>
<text x="853.7" y="154.56" fill="#38e4f4" stroke="#38e4f4" stroke-width="0.42" font-size="5.332" textLength="70.74" lengthAdjust="spacingAndGlyphs">FELT OVER PLYWOOD SHEATHING</text>
<polyline points="849.5,147.5 840,147.5 770,180" fill="none" stroke="#3cc8dc" stroke-width="0.9" />
<polygon points="770,180 772.73,177.8 773.44,179.34" fill="#3cc8dc" stroke="none" stroke-width="0.8" />
<text x="853.7" y="164.26" fill="#38e4f4" stroke="#38e4f4" stroke-width="0.42" font-size="5.332" textLength="39.3" lengthAdjust="spacingAndGlyphs">SEE FRAMING DWG</text>
<text x="853.7" y="169.56" fill="#38e4f4" stroke="#38e4f4" stroke-width="0.42" font-size="5.332" textLength="20.96" lengthAdjust="spacingAndGlyphs">ON PLANS</text>
<polyline points="849.5,162.5 840,162.5 771.7,194" fill="none" stroke="#3cc8dc" stroke-width="0.9" />
<polygon points="771.7,194 774.43,191.8 775.14,193.35" fill="#3cc8dc" stroke="none" stroke-width="0.8" />
<text x="853.7" y="185.46" fill="#38e4f4" stroke="#38e4f4" stroke-width="0.42" font-size="5.332" textLength="39.3" lengthAdjust="spacingAndGlyphs">R-30 INSULATION</text>
<polyline points="849.5,183.7 840,183.7 770.8,217.5" fill="none" stroke="#3cc8dc" stroke-width="0.9" />
<polygon points="770.8,217.5 773.48,215.24 774.23,216.77" fill="#3cc8dc" stroke="none" stroke-width="0.8" />
<text x="853.7" y="205.46" fill="#38e4f4" stroke="#38e4f4" stroke-width="0.42" font-size="5.332" textLength="23.58" lengthAdjust="spacingAndGlyphs">DRIP EDGE</text>
<polyline points="849.5,203.7 840,203.7 821.7,214" fill="none" stroke="#3cc8dc" stroke-width="0.9" />
<polygon points="821.7,214 824.25,211.59 825.08,213.07" fill="#3cc8dc" stroke="none" stroke-width="0.8" />
<text x="853.7" y="234.26" fill="#38e4f4" stroke="#38e4f4" stroke-width="0.42" font-size="5.332" textLength="52.4" lengthAdjust="spacingAndGlyphs">ALUMINUM GUTTER OVER</text>
<text x="853.7" y="239.56" fill="#38e4f4" stroke="#38e4f4" stroke-width="0.42" font-size="5.332" textLength="26.2" lengthAdjust="spacingAndGlyphs">1x6 FASCIA</text>
<polyline points="849.5,232.5 840,232.5 823.3,221.7" fill="none" stroke="#3cc8dc" stroke-width="0.9" />
<polygon points="823.3,221.7 826.62,222.83 825.69,224.26" fill="#3cc8dc" stroke="none" stroke-width="0.8" />
<text x="853.7" y="254.26" fill="#38e4f4" stroke="#38e4f4" stroke-width="0.42" font-size="5.332" textLength="60.26" lengthAdjust="spacingAndGlyphs">SEE EXTERIOR ELEVATIONS</text>
<text x="853.7" y="259.56" fill="#38e4f4" stroke="#38e4f4" stroke-width="0.42" font-size="5.332" textLength="49.78" lengthAdjust="spacingAndGlyphs">FOR CORNICE DETAILS</text>
<polyline points="849.5,252.5 840,252.5 794,231.7" fill="none" stroke="#3cc8dc" stroke-width="0.9" />
<polygon points="794,231.7 797.45,232.33 796.75,233.88" fill="#3cc8dc" stroke="none" stroke-width="0.8" />
<text x="853.7" y="269.76" fill="#38e4f4" stroke="#38e4f4" stroke-width="0.42" font-size="5.332" textLength="57.64" lengthAdjust="spacingAndGlyphs">R-13 FIBERGLASS INSUL.</text>
<polyline points="849.5,268 840,268 786.7,243.3" fill="none" stroke="#3cc8dc" stroke-width="0.9" />
<polygon points="786.7,243.3 790.14,243.96 789.43,245.5" fill="#3cc8dc" stroke="none" stroke-width="0.8" />
<text x="853.7" y="280.06" fill="#38e4f4" stroke="#38e4f4" stroke-width="0.42" font-size="5.332" textLength="44.54" lengthAdjust="spacingAndGlyphs">1/2&quot; GYPSUM BOARD</text>
<polyline points="849.5,278.3 781.7,278.3" fill="none" stroke="#3cc8dc" stroke-width="0.9" />
<polygon points="781.7,278.3 785.1,277.45 785.1,279.15" fill="#3cc8dc" stroke="none" stroke-width="0.8" />
<text x="853.7" y="290.46" fill="#38e4f4" stroke="#38e4f4" stroke-width="0.42" font-size="5.332" textLength="34.06" lengthAdjust="spacingAndGlyphs">VAPOR BARRIER</text>
<polyline points="849.5,288.7 785,288.7" fill="none" stroke="#3cc8dc" stroke-width="0.9" />
<polygon points="785,288.7 788.4,287.85 788.4,289.55" fill="#3cc8dc" stroke="none" stroke-width="0.8" />
<text x="853.7" y="301.26" fill="#38e4f4" stroke="#38e4f4" stroke-width="0.42" font-size="5.332" textLength="55.02" lengthAdjust="spacingAndGlyphs">2x4 STUDS AT 16&quot; O.C.</text>
<text x="853.7" y="306.56" fill="#38e4f4" stroke="#38e4f4" stroke-width="0.42" font-size="5.332" textLength="57.64" lengthAdjust="spacingAndGlyphs">UNLESS SHOWN OTHERWISE</text>
<polyline points="849.5,299.5 789,299.5" fill="none" stroke="#3cc8dc" stroke-width="0.9" />
<polygon points="789,299.5 792.4,298.65 792.4,300.35" fill="#3cc8dc" stroke="none" stroke-width="0.8" />
<text x="853.7" y="322.06" fill="#38e4f4" stroke="#38e4f4" stroke-width="0.42" font-size="5.332" textLength="31.44" lengthAdjust="spacingAndGlyphs">3/4&quot; PLYWOOD</text>
<polyline points="849.5,320.3 840,320.3 768.3,361.3" fill="none" stroke="#3cc8dc" stroke-width="0.9" />
<polygon points="768.3,361.3 770.83,358.87 771.67,360.35" fill="#3cc8dc" stroke="none" stroke-width="0.8" />
<text x="853.7" y="337.56" fill="#38e4f4" stroke="#38e4f4" stroke-width="0.42" font-size="5.332" textLength="41.92" lengthAdjust="spacingAndGlyphs">ENGINEERED FLOOR</text>
<text x="853.7" y="342.86" fill="#38e4f4" stroke="#38e4f4" stroke-width="0.42" font-size="5.332" textLength="41.92" lengthAdjust="spacingAndGlyphs">SYSTEM BY OTHERS</text>
<polyline points="849.5,335.8 840,335.8 766.7,377.5" fill="none" stroke="#3cc8dc" stroke-width="0.9" />
<polygon points="766.7,377.5 769.23,375.08 770.08,376.56" fill="#3cc8dc" stroke="none" stroke-width="0.8" />
<text x="853.7" y="409.96" fill="#38e4f4" stroke="#38e4f4" stroke-width="0.42" font-size="5.332" textLength="44.54" lengthAdjust="spacingAndGlyphs">1/2&quot; GYPSUM BOARD</text>
<polyline points="849.5,408.2 840,408.2 770,384.2" fill="none" stroke="#3cc8dc" stroke-width="0.9" />
<polygon points="770,384.2 773.49,384.5 772.94,386.11" fill="#3cc8dc" stroke="none" stroke-width="0.8" />
<text x="853.7" y="425.46" fill="#38e4f4" stroke="#38e4f4" stroke-width="0.42" font-size="5.332" textLength="55.02" lengthAdjust="spacingAndGlyphs">2x4 STUDS AT 16&quot; O.C.</text>
<text x="853.7" y="430.76" fill="#38e4f4" stroke="#38e4f4" stroke-width="0.42" font-size="5.332" textLength="57.64" lengthAdjust="spacingAndGlyphs">UNLESS SHOWN OTHERWISE</text>
<polyline points="849.5,423.7 788.3,423.7" fill="none" stroke="#3cc8dc" stroke-width="0.9" />
<polygon points="788.3,423.7 791.7,422.85 791.7,424.55" fill="#3cc8dc" stroke="none" stroke-width="0.8" />
<text x="853.7" y="440.46" fill="#38e4f4" stroke="#38e4f4" stroke-width="0.42" font-size="5.332" textLength="57.64" lengthAdjust="spacingAndGlyphs">R-13 FIBERGLASS INSUL.</text>
<polyline points="849.5,438.7 786.7,438.7" fill="none" stroke="#3cc8dc" stroke-width="0.9" />
<polygon points="786.7,438.7 790.1,437.85 790.1,439.55" fill="#3cc8dc" stroke="none" stroke-width="0.8" />
<text x="853.7" y="455.46" fill="#38e4f4" stroke="#38e4f4" stroke-width="0.42" font-size="5.332" textLength="36.68" lengthAdjust="spacingAndGlyphs">1/2&quot; SHEATHING</text>
<polyline points="849.5,453.7 792.5,453.7" fill="none" stroke="#3cc8dc" stroke-width="0.9" />
<polygon points="792.5,453.7 795.9,452.85 795.9,454.55" fill="#3cc8dc" stroke="none" stroke-width="0.8" />
<text x="853.7" y="470.06" fill="#38e4f4" stroke="#38e4f4" stroke-width="0.42" font-size="5.332" textLength="49.78" lengthAdjust="spacingAndGlyphs">SIDING AS SPECIFIED</text>
<polyline points="849.5,468.3 794.5,468.3" fill="none" stroke="#3cc8dc" stroke-width="0.9" />
<polygon points="794.5,468.3 797.9,467.45 797.9,469.15" fill="#3cc8dc" stroke="none" stroke-width="0.8" />
<text x="853.7" y="535.06" fill="#38e4f4" stroke="#38e4f4" stroke-width="0.42" font-size="5.332" textLength="52.4" lengthAdjust="spacingAndGlyphs">3/4&quot; PLYWOOD DECKING</text>
<polyline points="849.5,533.3 840,533.3 768.3,574.2" fill="none" stroke="#3cc8dc" stroke-width="0.9" />
<polygon points="768.3,574.2 770.83,571.78 771.67,573.25" fill="#3cc8dc" stroke="none" stroke-width="0.8" />
<text x="853.7" y="550.56" fill="#38e4f4" stroke="#38e4f4" stroke-width="0.42" font-size="5.332" textLength="57.64" lengthAdjust="spacingAndGlyphs">R-19 FIBERGLASS INSUL.</text>
<text x="853.7" y="555.86" fill="#38e4f4" stroke="#38e4f4" stroke-width="0.42" font-size="5.332" textLength="47.16" lengthAdjust="spacingAndGlyphs">&amp; ENGINEERED FLOOR</text>
<text x="853.7" y="561.16" fill="#38e4f4" stroke="#38e4f4" stroke-width="0.42" font-size="5.332" textLength="41.92" lengthAdjust="spacingAndGlyphs">SYSTEM BY OTHERS</text>
<polyline points="849.5,548.8 840,548.8 766.7,590" fill="none" stroke="#3cc8dc" stroke-width="0.9" />
<polygon points="766.7,590 769.25,587.59 770.08,589.08" fill="#3cc8dc" stroke="none" stroke-width="0.8" />
<text x="853.7" y="572.26" fill="#38e4f4" stroke="#38e4f4" stroke-width="0.42" font-size="5.332" textLength="47.16" lengthAdjust="spacingAndGlyphs">TREATED SILL PLATE</text>
<polyline points="849.5,570.5 840,570.5 788.3,597.5" fill="none" stroke="#3cc8dc" stroke-width="0.9" />
<polygon points="788.3,597.5 790.92,595.17 791.71,596.68" fill="#3cc8dc" stroke="none" stroke-width="0.8" />
<text x="853.7" y="582.06" fill="#38e4f4" stroke="#38e4f4" stroke-width="0.42" font-size="5.332" textLength="73.36" lengthAdjust="spacingAndGlyphs">1/2&quot; DIA. ANCHOR BOLTS (MIN.</text>
<text x="853.7" y="587.36" fill="#38e4f4" stroke="#38e4f4" stroke-width="0.42" font-size="5.332" textLength="70.74" lengthAdjust="spacingAndGlyphs">7&quot; EMBEDMENT) WITHIN 12&quot; OF</text>
<text x="853.7" y="592.66" fill="#38e4f4" stroke="#38e4f4" stroke-width="0.42" font-size="5.332" textLength="65.5" lengthAdjust="spacingAndGlyphs">CORNERS AND AT 6'-0&quot; O.C.</text>
<polyline points="849.5,580.3 840,580.3 788.3,607.5" fill="none" stroke="#3cc8dc" stroke-width="0.9" />
<polygon points="788.3,607.5 790.91,605.16 791.7,606.67" fill="#3cc8dc" stroke="none" stroke-width="0.8" />
<text x="853.7" y="622.06" fill="#38e4f4" stroke="#38e4f4" stroke-width="0.42" font-size="5.332" textLength="60.26" lengthAdjust="spacingAndGlyphs">MASONRY FOUNDATION WALL</text>
<text x="853.7" y="627.36" fill="#38e4f4" stroke="#38e4f4" stroke-width="0.42" font-size="5.332" textLength="55.02" lengthAdjust="spacingAndGlyphs">- REFER TO FOUNDATION</text>
<text x="853.7" y="632.66" fill="#38e4f4" stroke="#38e4f4" stroke-width="0.42" font-size="5.332" textLength="70.74" lengthAdjust="spacingAndGlyphs">NOTE (2) FOR WALL THICKNESS</text>
<text x="853.7" y="637.96" fill="#38e4f4" stroke="#38e4f4" stroke-width="0.42" font-size="5.332" textLength="75.98" lengthAdjust="spacingAndGlyphs">REQUIREMENTS AND WALL FOOTING</text>
<text x="853.7" y="643.26" fill="#38e4f4" stroke="#38e4f4" stroke-width="0.42" font-size="5.332" textLength="13.1" lengthAdjust="spacingAndGlyphs">SIZES</text>
<polyline points="849.5,620.3 794.2,620.3" fill="none" stroke="#3cc8dc" stroke-width="0.9" />
<polygon points="794.2,620.3 797.6,619.45 797.6,621.15" fill="#3cc8dc" stroke="none" stroke-width="0.8" />
<line x1="781.7" y1="408.2" x2="840" y2="408.2" stroke="#3cc8dc" stroke-width="0.9" />
<polygon points="781.7,408.2 785.1,407.35 785.1,409.05" fill="#3cc8dc" stroke="none" stroke-width="0.8" />
</g>
<g filter="url(#soft)">
<polyline points="172.5,596.2 222.4,596.2 223.5,592 225.5,600.5 226.4,596.2 279.2,596.2" fill="none" stroke="#2fb83a" stroke-width="0.9" />
<line x1="218.3" y1="596.2" x2="218.3" y2="640" stroke="#d92bc0" stroke-width="1.2" />
<line x1="229.2" y1="596.2" x2="229.2" y2="640" stroke="#d92bc0" stroke-width="1.2" />
<line x1="224.2" y1="623.3" x2="224.2" y2="680" stroke="#d8d0a0" stroke-width="0.9" />
<rect x="216.77" y="647.8" width="1.4" height="1.4" fill="#d4142e" stroke="none" stroke-width="0.8" />
<rect x="241.03" y="646.74" width="1.03" height="1.03" fill="#d4142e" stroke="none" stroke-width="0.8" />
<rect x="205.8" y="656.83" width="0.77" height="0.77" fill="#d4142e" stroke="none" stroke-width="0.8" />
<rect x="161.98" y="643.83" width="1.06" height="1.06" fill="#b01430" stroke="none" stroke-width="0.8" />
<rect x="245.73" y="651.24" width="0.94" height="0.94" fill="#9a1430" stroke="none" stroke-width="0.8" />
<rect x="247.83" y="651.75" width="0.75" height="0.75" fill="#b01430" stroke="none" stroke-width="0.8" />
<rect x="233.45" y="650.23" width="1.07" height="1.07" fill="#9a1430" stroke="none" stroke-width="0.8" />
<rect x="244.52" y="651.07" width="1.06" height="1.06" fill="#d4142e" stroke="none" stroke-width="0.8" />
<rect x="214.65" y="645.21" width="0.8" height="0.8" fill="#d4142e" stroke="none" stroke-width="0.8" />
<rect x="210.68" y="663.37" width="1.11" height="1.11" fill="#d4142e" stroke="none" stroke-width="0.8" />
<rect x="171.46" y="642.59" width="0.83" height="0.83" fill="#9a1430" stroke="none" stroke-width="0.8" />
<rect x="205.66" y="653.91" width="0.83" height="0.83" fill="#9a1430" stroke="none" stroke-width="0.8" />
<rect x="175.98" y="645.59" width="0.76" height="0.76" fill="#9a1430" stroke="none" stroke-width="0.8" />
<rect x="222.65" y="661.42" width="1.57" height="1.57" fill="#d4142e" stroke="none" stroke-width="0.8" />
<rect x="197.66" y="656.49" width="1.27" height="1.27" fill="#d4142e" stroke="none" stroke-width="0.8" />
<rect x="270.09" y="645.31" width="1.41" height="1.41" fill="#d4142e" stroke="none" stroke-width="0.8" />
<rect x="241.19" y="656.67" width="0.88" height="0.88" fill="#9a1430" stroke="none" stroke-width="0.8" />
<rect x="178.98" y="646.75" width="1.06" height="1.06" fill="#b01430" stroke="none" stroke-width="0.8" />
<rect x="268.82" y="646.11" width="1.5" height="1.5" fill="#b01430" stroke="none" stroke-width="0.8" />
<rect x="231.11" y="656.98" width="0.98" height="0.98" fill="#9a1430" stroke="none" stroke-width="0.8" />
<rect x="196.77" y="647.53" width="1.05" height="1.05" fill="#9a1430" stroke="none" stroke-width="0.8" />
<rect x="216.44" y="652.26" width="0.72" height="0.72" fill="#b01430" stroke="none" stroke-width="0.8" />
<rect x="216.45" y="656.76" width="1.44" height="1.44" fill="#d4142e" stroke="none" stroke-width="0.8" />
<rect x="204.88" y="661.36" width="1.15" height="1.15" fill="#b01430" stroke="none" stroke-width="0.8" />
<rect x="206.66" y="665.07" width="0.82" height="0.82" fill="#d4142e" stroke="none" stroke-width="0.8" />
<rect x="268.73" y="646.14" width="1.58" height="1.58" fill="#9a1430" stroke="none" stroke-width="0.8" />
<rect x="255.39" y="646.83" width="1.45" height="1.45" fill="#b01430" stroke="none" stroke-width="0.8" />
<rect x="260.38" y="645.27" width="1.51" height="1.51" fill="#9a1430" stroke="none" stroke-width="0.8" />
<rect x="221.18" y="656.1" width="1.25" height="1.25" fill="#d4142e" stroke="none" stroke-width="0.8" />
<rect x="198.31" y="642.22" width="0.86" height="0.86" fill="#d4142e" stroke="none" stroke-width="0.8" />
<rect x="243.39" y="648.25" width="1" height="1" fill="#9a1430" stroke="none" stroke-width="0.8" />
<rect x="243.36" y="650.29" width="1.49" height="1.49" fill="#b01430" stroke="none" stroke-width="0.8" />
<rect x="227.05" y="658.52" width="1.51" height="1.51" fill="#9a1430" stroke="none" stroke-width="0.8" />
<rect x="208.98" y="661.24" width="0.94" height="0.94" fill="#9a1430" stroke="none" stroke-width="0.8" />
<rect x="234.99" y="650.31" width="1.39" height="1.39" fill="#9a1430" stroke="none" stroke-width="0.8" />
<rect x="289.03" y="648.71" width="1.16" height="1.16" fill="#9a1430" stroke="none" stroke-width="0.8" />
<rect x="236.19" y="657.89" width="0.98" height="0.98" fill="#d4142e" stroke="none" stroke-width="0.8" />
<rect x="259.09" y="646.84" width="0.96" height="0.96" fill="#b01430" stroke="none" stroke-width="0.8" />
<rect x="214.38" y="654.12" width="1.51" height="1.51" fill="#d4142e" stroke="none" stroke-width="0.8" />
<rect x="222.35" y="656.61" width="0.74" height="0.74" fill="#d4142e" stroke="none" stroke-width="0.8" />
<rect x="236.65" y="646.4" width="1.26" height="1.26" fill="#9a1430" stroke="none" stroke-width="0.8" />
<rect x="175.52" y="641.65" width="1.42" height="1.42" fill="#b01430" stroke="none" stroke-width="0.8" />
<rect x="174.2" y="643.7" width="1.27" height="1.27" fill="#b01430" stroke="none" stroke-width="0.8" />
<rect x="190.52" y="641.59" width="1.28" height="1.28" fill="#b01430" stroke="none" stroke-width="0.8" />
<rect x="235.14" y="656.35" width="1.17" height="1.17" fill="#9a1430" stroke="none" stroke-width="0.8" />
<rect x="210.65" y="647.24" width="0.75" height="0.75" fill="#d4142e" stroke="none" stroke-width="0.8" />
<rect x="286.61" y="644.86" width="0.88" height="0.88" fill="#b01430" stroke="none" stroke-width="0.8" />
<rect x="244.26" y="657.49" width="1.07" height="1.07" fill="#b01430" stroke="none" stroke-width="0.8" />
<rect x="177.8" y="649.03" width="0.97" height="0.97" fill="#d4142e" stroke="none" stroke-width="0.8" />
<rect x="220.87" y="654.76" width="1.04" height="1.04" fill="#9a1430" stroke="none" stroke-width="0.8" />
<rect x="185.08" y="643.93" width="0.91" height="0.91" fill="#d4142e" stroke="none" stroke-width="0.8" />
<rect x="190.39" y="642.61" width="1.27" height="1.27" fill="#b01430" stroke="none" stroke-width="0.8" />
<rect x="214.92" y="661.01" width="1.17" height="1.17" fill="#9a1430" stroke="none" stroke-width="0.8" />
<rect x="279.97" y="643.44" width="1.16" height="1.16" fill="#d4142e" stroke="none" stroke-width="0.8" />
<rect x="189.97" y="647.2" width="1.37" height="1.37" fill="#d4142e" stroke="none" stroke-width="0.8" />
<rect x="258.95" y="649.47" width="1.49" height="1.49" fill="#9a1430" stroke="none" stroke-width="0.8" />
<rect x="238.37" y="650.79" width="1.47" height="1.47" fill="#b01430" stroke="none" stroke-width="0.8" />
<rect x="229.16" y="653.1" width="1.18" height="1.18" fill="#d4142e" stroke="none" stroke-width="0.8" />
<rect x="196.7" y="646.6" width="1.26" height="1.26" fill="#d4142e" stroke="none" stroke-width="0.8" />
<rect x="233.26" y="645.59" width="0.73" height="0.73" fill="#d4142e" stroke="none" stroke-width="0.8" />
<polygon points="151.7,650.6 188.8,650.6 197.5,659.2 151.7,659.2" fill="#d8102a" stroke="none" stroke-width="0.8" />
<polygon points="258.7,650.6 295.8,650.6 295.8,659.2 250,659.2" fill="#d8102a" stroke="none" stroke-width="0.8" />
<line x1="153" y1="653.2" x2="187.5" y2="653.2" stroke="#7a1028" stroke-width="1.0" stroke-dasharray="3.2 1"/>
<line x1="261" y1="653.2" x2="295" y2="653.2" stroke="#7a1028" stroke-width="1.0" stroke-dasharray="3.2 1"/>
<line x1="151.7" y1="640.5" x2="295.8" y2="640.5" stroke="#d8d8dc" stroke-width="0.9" />
<polyline points="151.7,649.7 188.3,649.7 206.7,667.2 241.7,667.2 259.2,649.7 295.8,649.7" fill="none" stroke="#d8d8dc" stroke-width="0.9" />
<rect x="222.6" y="638.8" width="3.4" height="2.2" fill="none" stroke="#e8e8c0" stroke-width="0.6" />
<line x1="188.3" y1="656.7" x2="188.3" y2="681.7" stroke="#e6e63a" stroke-width="0.9" />
<line x1="259.2" y1="656.7" x2="259.2" y2="681.7" stroke="#e6e63a" stroke-width="0.9" />
<line x1="186.7" y1="680" x2="260.8" y2="680" stroke="#e6e63a" stroke-width="0.9" />
<line x1="205.8" y1="675" x2="205.8" y2="681.7" stroke="#e6e63a" stroke-width="0.8" />
<line x1="241.7" y1="675" x2="241.7" y2="681.7" stroke="#e6e63a" stroke-width="0.8" />
<rect x="187.4" y="679.1" width="1.8" height="1.8" fill="#f2f22a" stroke="none" stroke-width="0.8" />
<rect x="204.9" y="679.1" width="1.8" height="1.8" fill="#f2f22a" stroke="none" stroke-width="0.8" />
<rect x="240.8" y="679.1" width="1.8" height="1.8" fill="#f2f22a" stroke="none" stroke-width="0.8" />
<rect x="258.3" y="679.1" width="1.8" height="1.8" fill="#f2f22a" stroke="none" stroke-width="0.8" />
<text x="194.8" y="678.81" fill="#f2f22a" stroke="#f2f22a" stroke-width="0.42" font-size="3.9559999999999995" textLength="3.8" lengthAdjust="spacingAndGlyphs">8&quot;</text>
<text x="218.75" y="678.81" fill="#f2f22a" stroke="#f2f22a" stroke-width="0.42" font-size="3.9559999999999995" textLength="9.5" lengthAdjust="spacingAndGlyphs">1'-4&quot;</text>
<text x="248.4" y="678.81" fill="#f2f22a" stroke="#f2f22a" stroke-width="0.42" font-size="3.9559999999999995" textLength="3.8" lengthAdjust="spacingAndGlyphs">8&quot;</text>
<line x1="312.5" y1="639.2" x2="312.5" y2="668.3" stroke="#e6e63a" stroke-width="0.9" />
<line x1="302.5" y1="640.5" x2="313.5" y2="640.5" stroke="#e6e63a" stroke-width="0.8" />
<line x1="302.5" y1="649.7" x2="313.5" y2="649.7" stroke="#e6e63a" stroke-width="0.8" />
<line x1="248.3" y1="667.2" x2="313.5" y2="667.2" stroke="#e6e63a" stroke-width="0.8" />
<rect x="311.6" y="639.6" width="1.8" height="1.8" fill="#f2f22a" stroke="none" stroke-width="0.8" />
<rect x="311.6" y="648.8" width="1.8" height="1.8" fill="#f2f22a" stroke="none" stroke-width="0.8" />
<rect x="311.6" y="666.3" width="1.8" height="1.8" fill="#f2f22a" stroke="none" stroke-width="0.8" />
<text x="308" y="646.45" fill="#f2f22a" stroke="#f2f22a" stroke-width="0.42" font-size="3.7840000000000003" textLength="3.6" lengthAdjust="spacingAndGlyphs" transform="rotate(-90 309.8 645.2)">4&quot;</text>
<text x="308" y="659.75" fill="#f2f22a" stroke="#f2f22a" stroke-width="0.42" font-size="3.7840000000000003" textLength="3.6" lengthAdjust="spacingAndGlyphs" transform="rotate(-90 309.8 658.5)">6&quot;</text>
<text x="151.3" y="602.26" fill="#38e4f4" stroke="#38e4f4" stroke-width="0.42" font-size="5.332" textLength="52.08" lengthAdjust="spacingAndGlyphs">2x4 STUDS AT 16&quot; O.C.</text>
<polyline points="205,600.5 210,600.5 224.2,610.8" fill="none" stroke="#3cc8dc" stroke-width="0.9" />
<polygon points="224.2,610.8 220.95,609.49 221.95,608.12" fill="#3cc8dc" stroke="none" stroke-width="0.8" />
<text x="283.7" y="602.26" fill="#38e4f4" stroke="#38e4f4" stroke-width="0.42" font-size="5.332" textLength="47.16" lengthAdjust="spacingAndGlyphs">TREATED WOOD PLATE</text>
<text x="283.7" y="607.56" fill="#38e4f4" stroke="#38e4f4" stroke-width="0.42" font-size="5.332" textLength="47.16" lengthAdjust="spacingAndGlyphs">ANCHOR AS REQUIRED</text>
<polyline points="282.5,600.5 275.8,600.5 225.8,637.5" fill="none" stroke="#3cc8dc" stroke-width="0.9" />
<polygon points="225.8,637.5 228.03,634.79 229.04,636.16" fill="#3cc8dc" stroke="none" stroke-width="0.8" />
<text x="283.7" y="617.06" fill="#38e4f4" stroke="#38e4f4" stroke-width="0.42" font-size="5.332" textLength="61.2" lengthAdjust="spacingAndGlyphs">4&quot; CONC. SLAB OVER 6 MIL</text>
<text x="283.7" y="622.26" fill="#38e4f4" stroke="#38e4f4" stroke-width="0.42" font-size="5.332" textLength="34.06" lengthAdjust="spacingAndGlyphs">VAPOR BARRIER</text>
<polyline points="282.5,615.3 275.8,615.3 262.5,643.3" fill="none" stroke="#3cc8dc" stroke-width="0.9" />
<polygon points="262.5,643.3 263.19,639.86 264.73,640.59" fill="#3cc8dc" stroke="none" stroke-width="0.8" />
<text x="283.7" y="631.76" fill="#38e4f4" stroke="#38e4f4" stroke-width="0.42" font-size="5.332" textLength="41.92" lengthAdjust="spacingAndGlyphs">4&quot; GRANULAR FILL</text>
<polyline points="282.5,630 275.8,630 265,653.3" fill="none" stroke="#3cc8dc" stroke-width="0.9" />
<polygon points="265,653.3 265.66,649.86 267.2,650.57" fill="#3cc8dc" stroke="none" stroke-width="0.8" />
</g>
<g filter="url(#soft2)">
<text class="ts" transform="translate(162.78 754.8) scale(0.72 1)" text-anchor="middle" font-size="18.8" fill="#d6d6e0">T</text>
<text class="ts" transform="translate(172.73 754.8) scale(0.61 1)" text-anchor="middle" font-size="18.8" fill="#d6d6e0">H</text>
<text class="ts" transform="translate(182.68 754.8) scale(0.95 1)" text-anchor="middle" font-size="18.8" fill="#d6d6e0">I</text>
<text class="ts" transform="translate(192.62 754.8) scale(0.66 1)" text-anchor="middle" font-size="18.8" fill="#d6d6e0">C</text>
<text class="ts" transform="translate(202.58 754.8) scale(0.61 1)" text-anchor="middle" font-size="18.8" fill="#d6d6e0">K</text>
<text class="ts" transform="translate(212.53 754.8) scale(0.72 1)" text-anchor="middle" font-size="18.8" fill="#d6d6e0">E</text>
<text class="ts" transform="translate(222.47 754.8) scale(0.61 1)" text-anchor="middle" font-size="18.8" fill="#d6d6e0">N</text>
<text class="ts" transform="translate(232.43 754.8) scale(0.72 1)" text-anchor="middle" font-size="18.8" fill="#d6d6e0">E</text>
<text class="ts" transform="translate(242.38 754.8) scale(0.61 1)" text-anchor="middle" font-size="18.8" fill="#d6d6e0">D</text>
<text class="ts" transform="translate(262.27 754.8) scale(0.79 1)" text-anchor="middle" font-size="18.8" fill="#d6d6e0">S</text>
<text class="ts" transform="translate(272.22 754.8) scale(0.72 1)" text-anchor="middle" font-size="18.8" fill="#d6d6e0">L</text>
<text class="ts" transform="translate(282.17 754.8) scale(0.61 1)" text-anchor="middle" font-size="18.8" fill="#d6d6e0">A</text>
<text class="ts" transform="translate(292.12 754.8) scale(0.66 1)" text-anchor="middle" font-size="18.8" fill="#d6d6e0">B</text>
<text class="ts" transform="translate(312.02 754.8) scale(0.48 1)" text-anchor="middle" font-size="18.8" fill="#d6d6e0">@</text>
<text class="ts" transform="translate(162.78 774.2) scale(0.72 1)" text-anchor="middle" font-size="18.8" fill="#d6d6e0">L</text>
<text class="ts" transform="translate(172.73 774.2) scale(0.61 1)" text-anchor="middle" font-size="18.8" fill="#d6d6e0">O</text>
<text class="ts" transform="translate(182.68 774.2) scale(0.61 1)" text-anchor="middle" font-size="18.8" fill="#d6d6e0">A</text>
<text class="ts" transform="translate(192.62 774.2) scale(0.61 1)" text-anchor="middle" font-size="18.8" fill="#d6d6e0">D</text>
<text class="ts" transform="translate(202.58 774.2) scale(1.35 1)" text-anchor="middle" font-size="18.8" fill="#d6d6e0">-</text>
<text class="ts" transform="translate(212.53 774.2) scale(0.66 1)" text-anchor="middle" font-size="18.8" fill="#d6d6e0">B</text>
<text class="ts" transform="translate(222.47 774.2) scale(0.72 1)" text-anchor="middle" font-size="18.8" fill="#d6d6e0">E</text>
<text class="ts" transform="translate(232.43 774.2) scale(0.61 1)" text-anchor="middle" font-size="18.8" fill="#d6d6e0">A</text>
<text class="ts" transform="translate(242.38 774.2) scale(0.66 1)" text-anchor="middle" font-size="18.8" fill="#d6d6e0">R</text>
<text class="ts" transform="translate(252.33 774.2) scale(0.95 1)" text-anchor="middle" font-size="18.8" fill="#d6d6e0">I</text>
<text class="ts" transform="translate(262.27 774.2) scale(0.61 1)" text-anchor="middle" font-size="18.8" fill="#d6d6e0">N</text>
<text class="ts" transform="translate(272.22 774.2) scale(0.61 1)" text-anchor="middle" font-size="18.8" fill="#d6d6e0">G</text>
<text class="ts" transform="translate(292.12 774.2) scale(0.47 1)" text-anchor="middle" font-size="18.8" fill="#d6d6e0">W</text>
<text class="ts" transform="translate(302.07 774.2) scale(0.61 1)" text-anchor="middle" font-size="18.8" fill="#d6d6e0">A</text>
<text class="ts" transform="translate(312.02 774.2) scale(0.72 1)" text-anchor="middle" font-size="18.8" fill="#d6d6e0">L</text>
<text class="ts" transform="translate(321.97 774.2) scale(0.72 1)" text-anchor="middle" font-size="18.8" fill="#d6d6e0">L</text>
<text class="ts" transform="translate(433.5 754.8) scale(0.72 1)" text-anchor="middle" font-size="18.8" fill="#d6d6e0">T</text>
<text class="ts" transform="translate(442.9 754.8) scale(0.61 1)" text-anchor="middle" font-size="18.8" fill="#d6d6e0">Y</text>
<text class="ts" transform="translate(452.3 754.8) scale(0.79 1)" text-anchor="middle" font-size="18.8" fill="#d6d6e0">P</text>
<text class="ts" transform="translate(461.7 754.8) scale(0.95 1)" text-anchor="middle" font-size="18.8" fill="#d6d6e0">I</text>
<text class="ts" transform="translate(471.1 754.8) scale(0.66 1)" text-anchor="middle" font-size="18.8" fill="#d6d6e0">C</text>
<text class="ts" transform="translate(480.5 754.8) scale(0.61 1)" text-anchor="middle" font-size="18.8" fill="#d6d6e0">A</text>
<text class="ts" transform="translate(489.9 754.8) scale(0.72 1)" text-anchor="middle" font-size="18.8" fill="#d6d6e0">L</text>
<text class="ts" transform="translate(508.7 754.8) scale(0.47 1)" text-anchor="middle" font-size="18.8" fill="#d6d6e0">W</text>
<text class="ts" transform="translate(518.1 754.8) scale(0.61 1)" text-anchor="middle" font-size="18.8" fill="#d6d6e0">A</text>
<text class="ts" transform="translate(527.5 754.8) scale(0.72 1)" text-anchor="middle" font-size="18.8" fill="#d6d6e0">L</text>
<text class="ts" transform="translate(536.9 754.8) scale(0.72 1)" text-anchor="middle" font-size="18.8" fill="#d6d6e0">L</text>
<text class="ts" transform="translate(555.7 754.8) scale(0.79 1)" text-anchor="middle" font-size="18.8" fill="#d6d6e0">S</text>
<text class="ts" transform="translate(565.1 754.8) scale(0.72 1)" text-anchor="middle" font-size="18.8" fill="#d6d6e0">E</text>
<text class="ts" transform="translate(574.5 754.8) scale(0.66 1)" text-anchor="middle" font-size="18.8" fill="#d6d6e0">C</text>
<text class="ts" transform="translate(583.9 754.8) scale(0.72 1)" text-anchor="middle" font-size="18.8" fill="#d6d6e0">T</text>
<text class="ts" transform="translate(593.3 754.8) scale(0.95 1)" text-anchor="middle" font-size="18.8" fill="#d6d6e0">I</text>
<text class="ts" transform="translate(602.7 754.8) scale(0.61 1)" text-anchor="middle" font-size="18.8" fill="#d6d6e0">O</text>
<text class="ts" transform="translate(612.1 754.8) scale(0.61 1)" text-anchor="middle" font-size="18.8" fill="#d6d6e0">N</text>
<text class="ts" transform="translate(433.27 774.2) scale(0.8 1)" text-anchor="middle" font-size="18.8" fill="#d6d6e0">(</text>
<text class="ts" transform="translate(443.02 774.2) scale(0.5 1)" text-anchor="middle" font-size="18.8" fill="#d6d6e0">M</text>
<text class="ts" transform="translate(452.77 774.2) scale(0.61 1)" text-anchor="middle" font-size="18.8" fill="#d6d6e0">O</text>
<text class="ts" transform="translate(462.52 774.2) scale(0.61 1)" text-anchor="middle" font-size="18.8" fill="#d6d6e0">N</text>
<text class="ts" transform="translate(472.27 774.2) scale(0.61 1)" text-anchor="middle" font-size="18.8" fill="#d6d6e0">O</text>
<text class="ts" transform="translate(491.77 774.2) scale(0.79 1)" text-anchor="middle" font-size="18.8" fill="#d6d6e0">S</text>
<text class="ts" transform="translate(501.52 774.2) scale(0.72 1)" text-anchor="middle" font-size="18.8" fill="#d6d6e0">L</text>
<text class="ts" transform="translate(511.27 774.2) scale(0.61 1)" text-anchor="middle" font-size="18.8" fill="#d6d6e0">A</text>
<text class="ts" transform="translate(521.02 774.2) scale(0.66 1)" text-anchor="middle" font-size="18.8" fill="#d6d6e0">B</text>
<text class="ts" transform="translate(530.77 774.2) scale(0.8 1)" text-anchor="middle" font-size="18.8" fill="#d6d6e0">)</text>
<text class="ts" transform="translate(699.67 754.8) scale(0.72 1)" text-anchor="middle" font-size="18.8" fill="#d6d6e0">T</text>
<text class="ts" transform="translate(709.02 754.8) scale(0.61 1)" text-anchor="middle" font-size="18.8" fill="#d6d6e0">Y</text>
<text class="ts" transform="translate(718.38 754.8) scale(0.79 1)" text-anchor="middle" font-size="18.8" fill="#d6d6e0">P</text>
<text class="ts" transform="translate(727.73 754.8) scale(0.95 1)" text-anchor="middle" font-size="18.8" fill="#d6d6e0">I</text>
<text class="ts" transform="translate(737.08 754.8) scale(0.66 1)" text-anchor="middle" font-size="18.8" fill="#d6d6e0">C</text>
<text class="ts" transform="translate(746.42 754.8) scale(0.61 1)" text-anchor="middle" font-size="18.8" fill="#d6d6e0">A</text>
<text class="ts" transform="translate(755.77 754.8) scale(0.72 1)" text-anchor="middle" font-size="18.8" fill="#d6d6e0">L</text>
<text class="ts" transform="translate(774.48 754.8) scale(0.47 1)" text-anchor="middle" font-size="18.8" fill="#d6d6e0">W</text>
<text class="ts" transform="translate(783.83 754.8) scale(0.61 1)" text-anchor="middle" font-size="18.8" fill="#d6d6e0">A</text>
<text class="ts" transform="translate(793.17 754.8) scale(0.72 1)" text-anchor="middle" font-size="18.8" fill="#d6d6e0">L</text>
<text class="ts" transform="translate(802.52 754.8) scale(0.72 1)" text-anchor="middle" font-size="18.8" fill="#d6d6e0">L</text>
<text class="ts" transform="translate(821.23 754.8) scale(0.79 1)" text-anchor="middle" font-size="18.8" fill="#d6d6e0">S</text>
<text class="ts" transform="translate(830.57 754.8) scale(0.72 1)" text-anchor="middle" font-size="18.8" fill="#d6d6e0">E</text>
<text class="ts" transform="translate(839.92 754.8) scale(0.66 1)" text-anchor="middle" font-size="18.8" fill="#d6d6e0">C</text>
<text class="ts" transform="translate(849.27 754.8) scale(0.72 1)" text-anchor="middle" font-size="18.8" fill="#d6d6e0">T</text>
<text class="ts" transform="translate(858.62 754.8) scale(0.95 1)" text-anchor="middle" font-size="18.8" fill="#d6d6e0">I</text>
<text class="ts" transform="translate(867.98 754.8) scale(0.61 1)" text-anchor="middle" font-size="18.8" fill="#d6d6e0">O</text>
<text class="ts" transform="translate(877.32 754.8) scale(0.61 1)" text-anchor="middle" font-size="18.8" fill="#d6d6e0">N</text>
<text class="ts" transform="translate(699.4 774.2) scale(0.8 1)" text-anchor="middle" font-size="18.8" fill="#d6d6e0">(</text>
<text class="ts" transform="translate(709 774.2) scale(0.66 1)" text-anchor="middle" font-size="18.8" fill="#d6d6e0">C</text>
<text class="ts" transform="translate(718.6 774.2) scale(0.66 1)" text-anchor="middle" font-size="18.8" fill="#d6d6e0">R</text>
<text class="ts" transform="translate(728.2 774.2) scale(0.61 1)" text-anchor="middle" font-size="18.8" fill="#d6d6e0">A</text>
<text class="ts" transform="translate(737.8 774.2) scale(0.47 1)" text-anchor="middle" font-size="18.8" fill="#d6d6e0">W</text>
<text class="ts" transform="translate(747.4 774.2) scale(0.72 1)" text-anchor="middle" font-size="18.8" fill="#d6d6e0">L</text>
<text class="ts" transform="translate(766.6 774.2) scale(0.79 1)" text-anchor="middle" font-size="18.8" fill="#d6d6e0">S</text>
<text class="ts" transform="translate(776.2 774.2) scale(0.79 1)" text-anchor="middle" font-size="18.8" fill="#d6d6e0">P</text>
<text class="ts" transform="translate(785.8 774.2) scale(0.61 1)" text-anchor="middle" font-size="18.8" fill="#d6d6e0">A</text>
<text class="ts" transform="translate(795.4 774.2) scale(0.66 1)" text-anchor="middle" font-size="18.8" fill="#d6d6e0">C</text>
<text class="ts" transform="translate(805 774.2) scale(0.72 1)" text-anchor="middle" font-size="18.8" fill="#d6d6e0">E</text>
<text class="ts" transform="translate(814.6 774.2) scale(0.8 1)" text-anchor="middle" font-size="18.8" fill="#d6d6e0">)</text>
<line x1="157.8" y1="775.8" x2="350" y2="775.8" stroke="#4c98a0" stroke-width="1.5" />
<line x1="429.3" y1="775.8" x2="622" y2="775.8" stroke="#4c98a0" stroke-width="1.5" />
<line x1="695.3" y1="775.8" x2="887.5" y2="775.8" stroke="#4c98a0" stroke-width="1.5" />
</g>
</svg>
</body></html>
